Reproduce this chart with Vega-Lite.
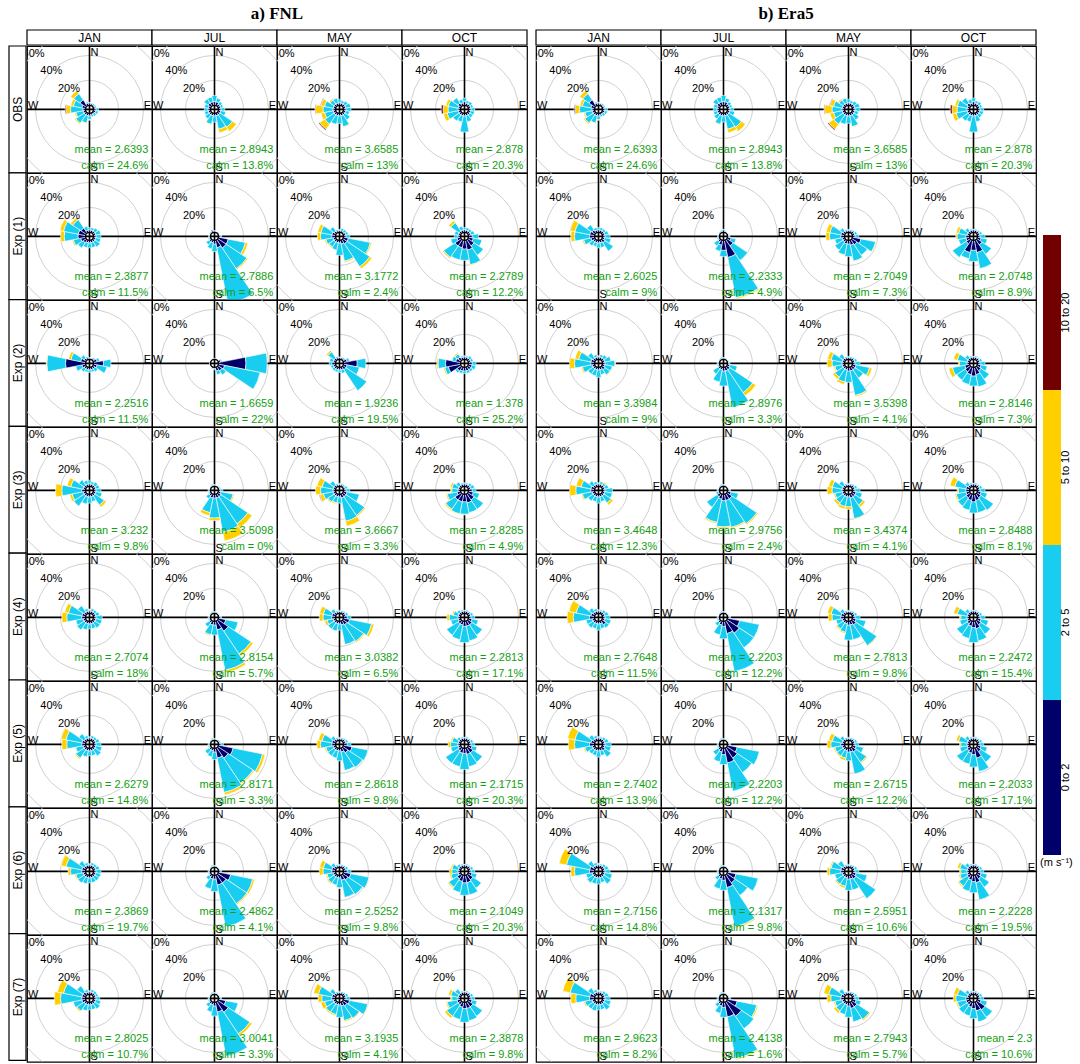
{
"$schema":"https://vega.github.io/schema/vega-lite/v6.json",
"padding":{"left":8,"top":5,"right":0,"bottom":0},
"background":"white",
"config":{"view":{"stroke":"#000","strokeWidth":1.2},"font":"Liberation Sans","title":{"font":"Liberation Serif","fontSize":17,"fontWeight":"bold","offset":6,"color":"#000"}},
"datasets":{"roses":[
{"p":"ab","m":"JAN","e":"O","mean":"2.6393","calm":"24.6"},{"p":"ab","m":"JUL","e":"O","mean":"2.8943","calm":"13.8"},{"p":"ab","m":"MAY","e":"O","mean":"3.6585","calm":"13"},{"p":"ab","m":"OCT","e":"O","mean":"2.878","calm":"20.3"},
{"p":"a","m":"JAN","e":"1","mean":"2.3877","calm":"11.5"},{"p":"a","m":"JUL","e":"1","mean":"2.7886","calm":"6.5"},{"p":"a","m":"MAY","e":"1","mean":"3.1772","calm":"2.4"},{"p":"a","m":"OCT","e":"1","mean":"2.2789","calm":"12.2"},
{"p":"a","m":"JAN","e":"2","mean":"2.2516","calm":"11.5"},{"p":"a","m":"JUL","e":"2","mean":"1.6659","calm":"22"},{"p":"a","m":"MAY","e":"2","mean":"1.9236","calm":"19.5"},{"p":"a","m":"OCT","e":"2","mean":"1.378","calm":"25.2"},
{"p":"a","m":"JAN","e":"3","mean":"3.232","calm":"9.8"},{"p":"a","m":"JUL","e":"3","mean":"3.5098","calm":"0"},{"p":"a","m":"MAY","e":"3","mean":"3.6667","calm":"3.3"},{"p":"a","m":"OCT","e":"3","mean":"2.8285","calm":"4.9"},
{"p":"a","m":"JAN","e":"4","mean":"2.7074","calm":"18"},{"p":"a","m":"JUL","e":"4","mean":"2.8154","calm":"5.7"},{"p":"a","m":"MAY","e":"4","mean":"3.0382","calm":"6.5"},{"p":"a","m":"OCT","e":"4","mean":"2.2813","calm":"17.1"},
{"p":"a","m":"JAN","e":"5","mean":"2.6279","calm":"14.8"},{"p":"a","m":"JUL","e":"5","mean":"2.8171","calm":"3.3"},{"p":"a","m":"MAY","e":"5","mean":"2.8618","calm":"9.8"},{"p":"a","m":"OCT","e":"5","mean":"2.1715","calm":"20.3"},
{"p":"a","m":"JAN","e":"6","mean":"2.3869","calm":"19.7"},{"p":"a","m":"JUL","e":"6","mean":"2.4862","calm":"4.1"},{"p":"a","m":"MAY","e":"6","mean":"2.5252","calm":"9.8"},{"p":"a","m":"OCT","e":"6","mean":"2.1049","calm":"20.3"},
{"p":"a","m":"JAN","e":"7","mean":"2.8025","calm":"10.7"},{"p":"a","m":"JUL","e":"7","mean":"3.0041","calm":"3.3"},{"p":"a","m":"MAY","e":"7","mean":"3.1935","calm":"4.1"},{"p":"a","m":"OCT","e":"7","mean":"2.3878","calm":"9.8"},
{"p":"b","m":"JAN","e":"1","mean":"2.6025","calm":"9"},{"p":"b","m":"JUL","e":"1","mean":"2.2333","calm":"4.9"},{"p":"b","m":"MAY","e":"1","mean":"2.7049","calm":"7.3"},{"p":"b","m":"OCT","e":"1","mean":"2.0748","calm":"8.9"},
{"p":"b","m":"JAN","e":"2","mean":"3.3984","calm":"9"},{"p":"b","m":"JUL","e":"2","mean":"2.8976","calm":"3.3"},{"p":"b","m":"MAY","e":"2","mean":"3.5398","calm":"4.1"},{"p":"b","m":"OCT","e":"2","mean":"2.8146","calm":"7.3"},
{"p":"b","m":"JAN","e":"3","mean":"3.4648","calm":"12.3"},{"p":"b","m":"JUL","e":"3","mean":"2.9756","calm":"2.4"},{"p":"b","m":"MAY","e":"3","mean":"3.4374","calm":"4.1"},{"p":"b","m":"OCT","e":"3","mean":"2.8488","calm":"8.1"},
{"p":"b","m":"JAN","e":"4","mean":"2.7648","calm":"11.5"},{"p":"b","m":"JUL","e":"4","mean":"2.2203","calm":"12.2"},{"p":"b","m":"MAY","e":"4","mean":"2.7813","calm":"9.8"},{"p":"b","m":"OCT","e":"4","mean":"2.2472","calm":"15.4"},
{"p":"b","m":"JAN","e":"5","mean":"2.7402","calm":"13.9"},{"p":"b","m":"JUL","e":"5","mean":"2.2203","calm":"12.2"},{"p":"b","m":"MAY","e":"5","mean":"2.6715","calm":"12.2"},{"p":"b","m":"OCT","e":"5","mean":"2.2033","calm":"17.1"},
{"p":"b","m":"JAN","e":"6","mean":"2.7156","calm":"14.8"},{"p":"b","m":"JUL","e":"6","mean":"2.1317","calm":"9.8"},{"p":"b","m":"MAY","e":"6","mean":"2.5951","calm":"10.6"},{"p":"b","m":"OCT","e":"6","mean":"2.2228","calm":"19.5"},
{"p":"b","m":"JAN","e":"7","mean":"2.9623","calm":"8.2"},{"p":"b","m":"JUL","e":"7","mean":"2.4138","calm":"1.6"},{"p":"b","m":"MAY","e":"7","mean":"2.7943","calm":"5.7"},{"p":"b","m":"OCT","e":"7","mean":"2.3","calm":"10.6"},

{"p":"ab","m":"JAN","e":"O","d":0,"s1":2,"s2":0.5},{"p":"ab","m":"JAN","e":"O","d":22.5,"s1":1.5,"s2":0.5},{"p":"ab","m":"JAN","e":"O","d":45,"s1":1.5,"s2":1},{"p":"ab","m":"JAN","e":"O","d":67.5,"s1":1.5,"s2":1},{"p":"ab","m":"JAN","e":"O","d":90,"s1":2,"s2":2},{"p":"ab","m":"JAN","e":"O","d":112.5,"s1":2,"s2":2},{"p":"ab","m":"JAN","e":"O","d":135,"s1":1.5,"s2":2},{"p":"ab","m":"JAN","e":"O","d":157.5,"s1":1.5,"s2":1.5},{"p":"ab","m":"JAN","e":"O","d":180,"s1":2,"s2":3,"s3":0.5},{"p":"ab","m":"JAN","e":"O","d":202.5,"s1":2,"s2":6,"s3":0.5},{"p":"ab","m":"JAN","e":"O","d":225,"s1":2,"s2":8,"s3":1},{"p":"ab","m":"JAN","e":"O","d":247.5,"s1":2,"s2":6,"s3":1},{"p":"ab","m":"JAN","e":"O","d":270,"s1":2,"s2":10,"s3":3.5,"s4":0.8},{"p":"ab","m":"JAN","e":"O","d":292.5,"s1":3,"s2":7,"s3":2},{"p":"ab","m":"JAN","e":"O","d":315,"s1":6,"s2":6,"s3":3},{"p":"ab","m":"JAN","e":"O","d":337.5,"s1":2,"s2":1},
{"p":"ab","m":"JUL","e":"O","d":0,"s1":3,"s2":5},{"p":"ab","m":"JUL","e":"O","d":22.5,"s1":3,"s2":3},{"p":"ab","m":"JUL","e":"O","d":45,"s1":2,"s2":2.5},{"p":"ab","m":"JUL","e":"O","d":67.5,"s1":2,"s2":2},{"p":"ab","m":"JUL","e":"O","d":90,"s1":2,"s2":3},{"p":"ab","m":"JUL","e":"O","d":112.5,"s1":2,"s2":4},{"p":"ab","m":"JUL","e":"O","d":135,"s1":2,"s2":12,"s3":4},{"p":"ab","m":"JUL","e":"O","d":157.5,"s1":2,"s2":11,"s3":3},{"p":"ab","m":"JUL","e":"O","d":180,"s1":2,"s2":5},{"p":"ab","m":"JUL","e":"O","d":202.5,"s1":2,"s2":7,"s3":0.5},{"p":"ab","m":"JUL","e":"O","d":225,"s1":2,"s2":4},{"p":"ab","m":"JUL","e":"O","d":247.5,"s1":2,"s2":3},{"p":"ab","m":"JUL","e":"O","d":270,"s1":2,"s2":3},{"p":"ab","m":"JUL","e":"O","d":292.5,"s1":2,"s2":3},{"p":"ab","m":"JUL","e":"O","d":315,"s1":3,"s2":4},{"p":"ab","m":"JUL","e":"O","d":337.5,"s1":3,"s2":4},
{"p":"ab","m":"MAY","e":"O","d":0,"s1":2,"s2":3},{"p":"ab","m":"MAY","e":"O","d":22.5,"s1":2,"s2":2},{"p":"ab","m":"MAY","e":"O","d":45,"s1":2,"s2":3},{"p":"ab","m":"MAY","e":"O","d":67.5,"s1":2,"s2":4},{"p":"ab","m":"MAY","e":"O","d":90,"s1":2,"s2":4},{"p":"ab","m":"MAY","e":"O","d":112.5,"s1":2,"s2":3},{"p":"ab","m":"MAY","e":"O","d":135,"s1":2,"s2":5},{"p":"ab","m":"MAY","e":"O","d":157.5,"s1":2,"s2":9,"s3":0.5},{"p":"ab","m":"MAY","e":"O","d":180,"s1":2,"s2":6},{"p":"ab","m":"MAY","e":"O","d":202.5,"s1":2,"s2":7},{"p":"ab","m":"MAY","e":"O","d":225,"s1":2,"s2":9,"s3":5,"s4":0.8},{"p":"ab","m":"MAY","e":"O","d":247.5,"s1":2,"s2":7,"s3":3},{"p":"ab","m":"MAY","e":"O","d":270,"s1":2,"s2":8,"s3":6,"s4":0.5},{"p":"ab","m":"MAY","e":"O","d":292.5,"s1":2,"s2":7,"s3":3,"s4":0.5},{"p":"ab","m":"MAY","e":"O","d":315,"s1":2,"s2":4,"s3":1},{"p":"ab","m":"MAY","e":"O","d":337.5,"s1":2,"s2":4},
{"p":"ab","m":"OCT","e":"O","d":0,"s1":3,"s2":3},{"p":"ab","m":"OCT","e":"O","d":22.5,"s1":2,"s2":2},{"p":"ab","m":"OCT","e":"O","d":45,"s1":2,"s2":2.5},{"p":"ab","m":"OCT","e":"O","d":67.5,"s1":2,"s2":2},{"p":"ab","m":"OCT","e":"O","d":90,"s1":2,"s2":3},{"p":"ab","m":"OCT","e":"O","d":112.5,"s1":2,"s2":3},{"p":"ab","m":"OCT","e":"O","d":135,"s1":2,"s2":3},{"p":"ab","m":"OCT","e":"O","d":157.5,"s1":2,"s2":5},{"p":"ab","m":"OCT","e":"O","d":180,"s1":2,"s2":13},{"p":"ab","m":"OCT","e":"O","d":202.5,"s1":2,"s2":5},{"p":"ab","m":"OCT","e":"O","d":225,"s1":2,"s2":6},{"p":"ab","m":"OCT","e":"O","d":247.5,"s1":2,"s2":9,"s3":3},{"p":"ab","m":"OCT","e":"O","d":270,"s1":2,"s2":8,"s3":4,"s4":1.5},{"p":"ab","m":"OCT","e":"O","d":292.5,"s1":2,"s2":8,"s3":2},{"p":"ab","m":"OCT","e":"O","d":315,"s1":3,"s2":5},{"p":"ab","m":"OCT","e":"O","d":337.5,"s1":2,"s2":3},

{"p":"a","m":"JAN","e":"1","d":0,"s1":2,"s2":2},{"p":"a","m":"JAN","e":"1","d":22.5,"s1":2,"s2":2},{"p":"a","m":"JAN","e":"1","d":45,"s1":2,"s2":3},{"p":"a","m":"JAN","e":"1","d":67.5,"s1":2,"s2":4},{"p":"a","m":"JAN","e":"1","d":90,"s1":2,"s2":4},{"p":"a","m":"JAN","e":"1","d":112.5,"s1":2,"s2":4},{"p":"a","m":"JAN","e":"1","d":135,"s1":2,"s2":5},{"p":"a","m":"JAN","e":"1","d":157.5,"s1":2,"s2":4},{"p":"a","m":"JAN","e":"1","d":180,"s1":2,"s2":4},{"p":"a","m":"JAN","e":"1","d":202.5,"s1":2,"s2":4},{"p":"a","m":"JAN","e":"1","d":225,"s1":3,"s2":5},{"p":"a","m":"JAN","e":"1","d":247.5,"s1":4,"s2":6,"s3":1},{"p":"a","m":"JAN","e":"1","d":270,"s1":6,"s2":11,"s3":3},{"p":"a","m":"JAN","e":"1","d":292.5,"s1":6,"s2":12,"s3":3},{"p":"a","m":"JAN","e":"1","d":315,"s1":5,"s2":8,"s3":2},{"p":"a","m":"JAN","e":"1","d":337.5,"s1":2,"s2":3},
{"p":"a","m":"JUL","e":"1","d":0,"s1":1,"s2":0.5},{"p":"a","m":"JUL","e":"1","d":45,"s1":1,"s2":0.5},{"p":"a","m":"JUL","e":"1","d":90,"s1":1.5,"s2":1},{"p":"a","m":"JUL","e":"1","d":112.5,"s1":8,"s2":14,"s3":2},{"p":"a","m":"JUL","e":"1","d":135,"s1":8,"s2":20,"s3":1},{"p":"a","m":"JUL","e":"1","d":157.5,"s1":6,"s2":46},{"p":"a","m":"JUL","e":"1","d":180,"s1":3,"s2":6},{"p":"a","m":"JUL","e":"1","d":202.5,"s1":2,"s2":5},{"p":"a","m":"JUL","e":"1","d":225,"s1":2,"s2":3},{"p":"a","m":"JUL","e":"1","d":247.5,"s1":1,"s2":1},{"p":"a","m":"JUL","e":"1","d":270,"s1":1,"s2":0.5},{"p":"a","m":"JUL","e":"1","d":315,"s1":1,"s2":0.5},{"p":"a","m":"JUL","e":"1","d":337.5,"s1":1.5,"s2":1},
{"p":"a","m":"MAY","e":"1","d":0,"s1":1.5,"s2":1},{"p":"a","m":"MAY","e":"1","d":22.5,"s1":1.5,"s2":2},{"p":"a","m":"MAY","e":"1","d":45,"s1":1.5,"s2":2},{"p":"a","m":"MAY","e":"1","d":67.5,"s1":2,"s2":2},{"p":"a","m":"MAY","e":"1","d":90,"s1":2,"s2":3},{"p":"a","m":"MAY","e":"1","d":112.5,"s1":4,"s2":18,"s3":1},{"p":"a","m":"MAY","e":"1","d":135,"s1":4,"s2":22,"s3":2},{"p":"a","m":"MAY","e":"1","d":157.5,"s1":3,"s2":14,"s3":1},{"p":"a","m":"MAY","e":"1","d":180,"s1":2,"s2":10},{"p":"a","m":"MAY","e":"1","d":202.5,"s1":2,"s2":6},{"p":"a","m":"MAY","e":"1","d":225,"s1":2,"s2":5,"s3":1},{"p":"a","m":"MAY","e":"1","d":247.5,"s1":2,"s2":6,"s3":1},{"p":"a","m":"MAY","e":"1","d":270,"s1":3,"s2":9,"s3":2.5},{"p":"a","m":"MAY","e":"1","d":292.5,"s1":3,"s2":9,"s3":2.5},{"p":"a","m":"MAY","e":"1","d":315,"s1":2,"s2":4},{"p":"a","m":"MAY","e":"1","d":337.5,"s1":1.5,"s2":1},
{"p":"a","m":"OCT","e":"1","d":0,"s1":2,"s2":2},{"p":"a","m":"OCT","e":"1","d":22.5,"s1":2,"s2":2},{"p":"a","m":"OCT","e":"1","d":45,"s1":2,"s2":2},{"p":"a","m":"OCT","e":"1","d":67.5,"s1":2,"s2":3},{"p":"a","m":"OCT","e":"1","d":90,"s1":3,"s2":5},{"p":"a","m":"OCT","e":"1","d":112.5,"s1":4,"s2":7},{"p":"a","m":"OCT","e":"1","d":135,"s1":6,"s2":9},{"p":"a","m":"OCT","e":"1","d":157.5,"s1":8,"s2":12,"s3":0.5},{"p":"a","m":"OCT","e":"1","d":180,"s1":7,"s2":9},{"p":"a","m":"OCT","e":"1","d":202.5,"s1":6,"s2":10},{"p":"a","m":"OCT","e":"1","d":225,"s1":6,"s2":11,"s3":1},{"p":"a","m":"OCT","e":"1","d":247.5,"s1":3,"s2":5},{"p":"a","m":"OCT","e":"1","d":270,"s1":2,"s2":3},{"p":"a","m":"OCT","e":"1","d":292.5,"s1":2,"s2":3},{"p":"a","m":"OCT","e":"1","d":315,"s1":2,"s2":8,"s3":2},{"p":"a","m":"OCT","e":"1","d":337.5,"s1":2,"s2":3},

{"p":"a","m":"JAN","e":"2","d":0,"s1":1,"s2":0.5},{"p":"a","m":"JAN","e":"2","d":22.5,"s1":1,"s2":0.5},{"p":"a","m":"JAN","e":"2","d":45,"s1":1.5,"s2":1},{"p":"a","m":"JAN","e":"2","d":67.5,"s1":3,"s2":2},{"p":"a","m":"JAN","e":"2","d":90,"s1":8,"s2":6},{"p":"a","m":"JAN","e":"2","d":112.5,"s1":3,"s2":8},{"p":"a","m":"JAN","e":"2","d":135,"s1":2,"s2":3},{"p":"a","m":"JAN","e":"2","d":157.5,"s1":2,"s2":2},{"p":"a","m":"JAN","e":"2","d":180,"s1":2,"s2":2},{"p":"a","m":"JAN","e":"2","d":202.5,"s1":2,"s2":2},{"p":"a","m":"JAN","e":"2","d":225,"s1":2,"s2":3},{"p":"a","m":"JAN","e":"2","d":247.5,"s1":3,"s2":5},{"p":"a","m":"JAN","e":"2","d":270,"s1":16,"s2":15,"s3":0.5},{"p":"a","m":"JAN","e":"2","d":292.5,"s1":4,"s2":8,"s3":2},{"p":"a","m":"JAN","e":"2","d":315,"s1":2,"s2":3},{"p":"a","m":"JAN","e":"2","d":337.5,"s1":1.5,"s2":1},
{"p":"a","m":"JUL","e":"2","d":0,"s1":0.5,"s2":0.3},{"p":"a","m":"JUL","e":"2","d":67.5,"s1":2,"s2":1},{"p":"a","m":"JUL","e":"2","d":90,"s1":22,"s2":17},{"p":"a","m":"JUL","e":"2","d":112.5,"s1":5,"s2":29},{"p":"a","m":"JUL","e":"2","d":135,"s1":4,"s2":4},{"p":"a","m":"JUL","e":"2","d":157.5,"s1":3,"s2":3},{"p":"a","m":"JUL","e":"2","d":180,"s1":1,"s2":1},{"p":"a","m":"JUL","e":"2","d":202.5,"s1":1,"s2":0.5},{"p":"a","m":"JUL","e":"2","d":270,"s1":0.5,"s2":0.3},
{"p":"a","m":"MAY","e":"2","d":0,"s1":1.5,"s2":0.5},{"p":"a","m":"MAY","e":"2","d":22.5,"s1":1.5,"s2":0.5},{"p":"a","m":"MAY","e":"2","d":45,"s1":1.5,"s2":1},{"p":"a","m":"MAY","e":"2","d":67.5,"s1":3,"s2":2},{"p":"a","m":"MAY","e":"2","d":90,"s1":11,"s2":7},{"p":"a","m":"MAY","e":"2","d":112.5,"s1":3,"s2":10},{"p":"a","m":"MAY","e":"2","d":135,"s1":3,"s2":20},{"p":"a","m":"MAY","e":"2","d":157.5,"s1":2,"s2":3},{"p":"a","m":"MAY","e":"2","d":180,"s1":2,"s2":2},{"p":"a","m":"MAY","e":"2","d":202.5,"s1":2,"s2":2},{"p":"a","m":"MAY","e":"2","d":225,"s1":2,"s2":2},{"p":"a","m":"MAY","e":"2","d":247.5,"s1":2,"s2":2},{"p":"a","m":"MAY","e":"2","d":270,"s1":3,"s2":2},{"p":"a","m":"MAY","e":"2","d":292.5,"s1":2,"s2":3},{"p":"a","m":"MAY","e":"2","d":315,"s1":2,"s2":6,"s3":1.5},{"p":"a","m":"MAY","e":"2","d":337.5,"s1":1.5,"s2":1},
{"p":"a","m":"OCT","e":"2","d":0,"s1":2,"s2":1},{"p":"a","m":"OCT","e":"2","d":22.5,"s1":2,"s2":1},{"p":"a","m":"OCT","e":"2","d":45,"s1":2,"s2":2},{"p":"a","m":"OCT","e":"2","d":67.5,"s1":2,"s2":2},{"p":"a","m":"OCT","e":"2","d":90,"s1":3,"s2":3},{"p":"a","m":"OCT","e":"2","d":112.5,"s1":3,"s2":3},{"p":"a","m":"OCT","e":"2","d":135,"s1":3,"s2":2},{"p":"a","m":"OCT","e":"2","d":157.5,"s1":3,"s2":2},{"p":"a","m":"OCT","e":"2","d":180,"s1":3,"s2":2},{"p":"a","m":"OCT","e":"2","d":202.5,"s1":3,"s2":2},{"p":"a","m":"OCT","e":"2","d":225,"s1":4,"s2":2},{"p":"a","m":"OCT","e":"2","d":247.5,"s1":10,"s2":3,"s3":1},{"p":"a","m":"OCT","e":"2","d":270,"s1":12,"s2":6,"s3":1},{"p":"a","m":"OCT","e":"2","d":292.5,"s1":4,"s2":3},{"p":"a","m":"OCT","e":"2","d":315,"s1":3,"s2":3,"s3":1},{"p":"a","m":"OCT","e":"2","d":337.5,"s1":2,"s2":1},

{"p":"a","m":"JAN","e":"3","d":0,"s1":2,"s2":3},{"p":"a","m":"JAN","e":"3","d":22.5,"s1":2,"s2":2},{"p":"a","m":"JAN","e":"3","d":45,"s1":2,"s2":3},{"p":"a","m":"JAN","e":"3","d":67.5,"s1":2,"s2":3},{"p":"a","m":"JAN","e":"3","d":90,"s1":2,"s2":4},{"p":"a","m":"JAN","e":"3","d":112.5,"s1":2,"s2":5},{"p":"a","m":"JAN","e":"3","d":135,"s1":2,"s2":9,"s3":2},{"p":"a","m":"JAN","e":"3","d":157.5,"s1":2,"s2":4},{"p":"a","m":"JAN","e":"3","d":180,"s1":2,"s2":5},{"p":"a","m":"JAN","e":"3","d":202.5,"s1":2,"s2":6},{"p":"a","m":"JAN","e":"3","d":225,"s1":2,"s2":10},{"p":"a","m":"JAN","e":"3","d":247.5,"s1":2,"s2":9,"s3":2},{"p":"a","m":"JAN","e":"3","d":270,"s1":3,"s2":16,"s3":5},{"p":"a","m":"JAN","e":"3","d":292.5,"s1":2,"s2":10,"s3":3},{"p":"a","m":"JAN","e":"3","d":315,"s1":2,"s2":5},{"p":"a","m":"JAN","e":"3","d":337.5,"s1":2,"s2":3},
{"p":"a","m":"JUL","e":"3","d":0,"s1":1,"s2":0.5},{"p":"a","m":"JUL","e":"3","d":45,"s1":1,"s2":0.5},{"p":"a","m":"JUL","e":"3","d":67.5,"s1":1,"s2":1},{"p":"a","m":"JUL","e":"3","d":90,"s1":1.5,"s2":2},{"p":"a","m":"JUL","e":"3","d":112.5,"s1":2,"s2":10,"s3":1},{"p":"a","m":"JUL","e":"3","d":135,"s1":3,"s2":26,"s3":4},{"p":"a","m":"JUL","e":"3","d":157.5,"s1":3,"s2":28,"s3":7},{"p":"a","m":"JUL","e":"3","d":180,"s1":3,"s2":16,"s3":2},{"p":"a","m":"JUL","e":"3","d":202.5,"s1":3,"s2":12,"s3":2.5},{"p":"a","m":"JUL","e":"3","d":225,"s1":2,"s2":3},{"p":"a","m":"JUL","e":"3","d":247.5,"s1":1,"s2":1},{"p":"a","m":"JUL","e":"3","d":270,"s1":1,"s2":1},{"p":"a","m":"JUL","e":"3","d":315,"s1":1,"s2":0.5},{"p":"a","m":"JUL","e":"3","d":337.5,"s1":1,"s2":1},
{"p":"a","m":"MAY","e":"3","d":0,"s1":1.5,"s2":1},{"p":"a","m":"MAY","e":"3","d":22.5,"s1":1.5,"s2":1},{"p":"a","m":"MAY","e":"3","d":45,"s1":1.5,"s2":1},{"p":"a","m":"MAY","e":"3","d":67.5,"s1":1.5,"s2":2},{"p":"a","m":"MAY","e":"3","d":90,"s1":2,"s2":3},{"p":"a","m":"MAY","e":"3","d":112.5,"s1":3,"s2":10},{"p":"a","m":"MAY","e":"3","d":135,"s1":3,"s2":18,"s3":1},{"p":"a","m":"MAY","e":"3","d":157.5,"s1":3,"s2":19,"s3":4},{"p":"a","m":"MAY","e":"3","d":180,"s1":2,"s2":5},{"p":"a","m":"MAY","e":"3","d":202.5,"s1":2,"s2":5,"s3":1},{"p":"a","m":"MAY","e":"3","d":225,"s1":2,"s2":6,"s3":1},{"p":"a","m":"MAY","e":"3","d":247.5,"s1":2,"s2":8,"s3":3,"s4":0.5},{"p":"a","m":"MAY","e":"3","d":270,"s1":2,"s2":10,"s3":4},{"p":"a","m":"MAY","e":"3","d":292.5,"s1":2,"s2":9,"s3":4},{"p":"a","m":"MAY","e":"3","d":315,"s1":2,"s2":4},{"p":"a","m":"MAY","e":"3","d":337.5,"s1":1.5,"s2":1},
{"p":"a","m":"OCT","e":"3","d":0,"s1":2,"s2":1},{"p":"a","m":"OCT","e":"3","d":22.5,"s1":2,"s2":1},{"p":"a","m":"OCT","e":"3","d":45,"s1":2,"s2":2},{"p":"a","m":"OCT","e":"3","d":67.5,"s1":2,"s2":3},{"p":"a","m":"OCT","e":"3","d":90,"s1":3,"s2":3},{"p":"a","m":"OCT","e":"3","d":112.5,"s1":4,"s2":5},{"p":"a","m":"OCT","e":"3","d":135,"s1":6,"s2":9},{"p":"a","m":"OCT","e":"3","d":157.5,"s1":7,"s2":8},{"p":"a","m":"OCT","e":"3","d":180,"s1":6,"s2":10,"s3":0.5},{"p":"a","m":"OCT","e":"3","d":202.5,"s1":6,"s2":10,"s3":0.5},{"p":"a","m":"OCT","e":"3","d":225,"s1":6,"s2":9,"s3":1},{"p":"a","m":"OCT","e":"3","d":247.5,"s1":3,"s2":8,"s3":1},{"p":"a","m":"OCT","e":"3","d":270,"s1":2,"s2":5,"s3":1},{"p":"a","m":"OCT","e":"3","d":292.5,"s1":2,"s2":5,"s3":1.5},{"p":"a","m":"OCT","e":"3","d":315,"s1":2,"s2":3},{"p":"a","m":"OCT","e":"3","d":337.5,"s1":2,"s2":1},

{"p":"a","m":"JAN","e":"4","d":0,"s1":2,"s2":1,"s3":0.5},{"p":"a","m":"JAN","e":"4","d":22.5,"s1":2,"s2":2},{"p":"a","m":"JAN","e":"4","d":45,"s1":2,"s2":2},{"p":"a","m":"JAN","e":"4","d":67.5,"s1":2,"s2":3},{"p":"a","m":"JAN","e":"4","d":90,"s1":2,"s2":5},{"p":"a","m":"JAN","e":"4","d":112.5,"s1":2,"s2":5},{"p":"a","m":"JAN","e":"4","d":135,"s1":2,"s2":5},{"p":"a","m":"JAN","e":"4","d":157.5,"s1":2,"s2":4},{"p":"a","m":"JAN","e":"4","d":180,"s1":2,"s2":4},{"p":"a","m":"JAN","e":"4","d":202.5,"s1":2,"s2":5},{"p":"a","m":"JAN","e":"4","d":225,"s1":2,"s2":7},{"p":"a","m":"JAN","e":"4","d":247.5,"s1":2,"s2":6},{"p":"a","m":"JAN","e":"4","d":270,"s1":3,"s2":12,"s3":4},{"p":"a","m":"JAN","e":"4","d":292.5,"s1":3,"s2":11,"s3":3},{"p":"a","m":"JAN","e":"4","d":315,"s1":2,"s2":6},{"p":"a","m":"JAN","e":"4","d":337.5,"s1":2,"s2":2},
{"p":"a","m":"JUL","e":"4","d":0,"s1":1,"s2":0.5},{"p":"a","m":"JUL","e":"4","d":22.5,"s1":1,"s2":0.5},{"p":"a","m":"JUL","e":"4","d":67.5,"s1":1,"s2":0.5},{"p":"a","m":"JUL","e":"4","d":90,"s1":1.5,"s2":1},{"p":"a","m":"JUL","e":"4","d":112.5,"s1":6,"s2":10},{"p":"a","m":"JUL","e":"4","d":135,"s1":10,"s2":22,"s3":2},{"p":"a","m":"JUL","e":"4","d":157.5,"s1":7,"s2":33,"s3":2},{"p":"a","m":"JUL","e":"4","d":180,"s1":3,"s2":8},{"p":"a","m":"JUL","e":"4","d":202.5,"s1":3,"s2":8,"s3":1},{"p":"a","m":"JUL","e":"4","d":225,"s1":2,"s2":4},{"p":"a","m":"JUL","e":"4","d":247.5,"s1":1,"s2":1},{"p":"a","m":"JUL","e":"4","d":270,"s1":1,"s2":1},{"p":"a","m":"JUL","e":"4","d":315,"s1":1,"s2":0.5},{"p":"a","m":"JUL","e":"4","d":337.5,"s1":1,"s2":1},
{"p":"a","m":"MAY","e":"4","d":0,"s1":1.5,"s2":1},{"p":"a","m":"MAY","e":"4","d":22.5,"s1":1.5,"s2":1},{"p":"a","m":"MAY","e":"4","d":45,"s1":2,"s2":1},{"p":"a","m":"MAY","e":"4","d":67.5,"s1":2,"s2":2},{"p":"a","m":"MAY","e":"4","d":90,"s1":3,"s2":3},{"p":"a","m":"MAY","e":"4","d":112.5,"s1":5,"s2":18,"s3":2},{"p":"a","m":"MAY","e":"4","d":135,"s1":4,"s2":16,"s3":1},{"p":"a","m":"MAY","e":"4","d":157.5,"s1":3,"s2":16},{"p":"a","m":"MAY","e":"4","d":180,"s1":2,"s2":5},{"p":"a","m":"MAY","e":"4","d":202.5,"s1":2,"s2":6},{"p":"a","m":"MAY","e":"4","d":225,"s1":2,"s2":6},{"p":"a","m":"MAY","e":"4","d":247.5,"s1":2,"s2":5,"s3":2},{"p":"a","m":"MAY","e":"4","d":270,"s1":3,"s2":7,"s3":3},{"p":"a","m":"MAY","e":"4","d":292.5,"s1":3,"s2":7,"s3":3},{"p":"a","m":"MAY","e":"4","d":315,"s1":2,"s2":3},{"p":"a","m":"MAY","e":"4","d":337.5,"s1":1.5,"s2":1},
{"p":"a","m":"OCT","e":"4","d":0,"s1":2,"s2":0.5},{"p":"a","m":"OCT","e":"4","d":22.5,"s1":2,"s2":1},{"p":"a","m":"OCT","e":"4","d":45,"s1":2,"s2":1},{"p":"a","m":"OCT","e":"4","d":67.5,"s1":2,"s2":2},{"p":"a","m":"OCT","e":"4","d":90,"s1":2,"s2":3},{"p":"a","m":"OCT","e":"4","d":112.5,"s1":3,"s2":5},{"p":"a","m":"OCT","e":"4","d":135,"s1":4,"s2":10},{"p":"a","m":"OCT","e":"4","d":157.5,"s1":4,"s2":12},{"p":"a","m":"OCT","e":"4","d":180,"s1":4,"s2":13},{"p":"a","m":"OCT","e":"4","d":202.5,"s1":3,"s2":12},{"p":"a","m":"OCT","e":"4","d":225,"s1":3,"s2":11},{"p":"a","m":"OCT","e":"4","d":247.5,"s1":2,"s2":6},{"p":"a","m":"OCT","e":"4","d":270,"s1":2,"s2":7,"s3":2},{"p":"a","m":"OCT","e":"4","d":292.5,"s1":2,"s2":4,"s3":1},{"p":"a","m":"OCT","e":"4","d":315,"s1":2,"s2":2},{"p":"a","m":"OCT","e":"4","d":337.5,"s1":2,"s2":1},

{"p":"a","m":"JAN","e":"5","d":0,"s1":2,"s2":1},{"p":"a","m":"JAN","e":"5","d":22.5,"s1":2,"s2":2},{"p":"a","m":"JAN","e":"5","d":45,"s1":2,"s2":2},{"p":"a","m":"JAN","e":"5","d":67.5,"s1":2,"s2":3},{"p":"a","m":"JAN","e":"5","d":90,"s1":2,"s2":4},{"p":"a","m":"JAN","e":"5","d":112.5,"s1":2,"s2":5},{"p":"a","m":"JAN","e":"5","d":135,"s1":2,"s2":6},{"p":"a","m":"JAN","e":"5","d":157.5,"s1":2,"s2":4},{"p":"a","m":"JAN","e":"5","d":180,"s1":2,"s2":4},{"p":"a","m":"JAN","e":"5","d":202.5,"s1":2,"s2":5},{"p":"a","m":"JAN","e":"5","d":225,"s1":2,"s2":8,"s3":1},{"p":"a","m":"JAN","e":"5","d":247.5,"s1":2,"s2":6},{"p":"a","m":"JAN","e":"5","d":270,"s1":3,"s2":12,"s3":4},{"p":"a","m":"JAN","e":"5","d":292.5,"s1":3,"s2":13,"s3":4},{"p":"a","m":"JAN","e":"5","d":315,"s1":2,"s2":5},{"p":"a","m":"JAN","e":"5","d":337.5,"s1":2,"s2":2},
{"p":"a","m":"JUL","e":"5","d":0,"s1":1,"s2":0.5},{"p":"a","m":"JUL","e":"5","d":45,"s1":1,"s2":0.5},{"p":"a","m":"JUL","e":"5","d":67.5,"s1":1,"s2":1},{"p":"a","m":"JUL","e":"5","d":90,"s1":2,"s2":2},{"p":"a","m":"JUL","e":"5","d":112.5,"s1":12,"s2":24,"s3":2},{"p":"a","m":"JUL","e":"5","d":135,"s1":10,"s2":24,"s3":1},{"p":"a","m":"JUL","e":"5","d":157.5,"s1":8,"s2":28,"s3":2},{"p":"a","m":"JUL","e":"5","d":180,"s1":3,"s2":6},{"p":"a","m":"JUL","e":"5","d":202.5,"s1":2,"s2":5},{"p":"a","m":"JUL","e":"5","d":225,"s1":2,"s2":4},{"p":"a","m":"JUL","e":"5","d":247.5,"s1":1,"s2":1},{"p":"a","m":"JUL","e":"5","d":270,"s1":1,"s2":1},{"p":"a","m":"JUL","e":"5","d":315,"s1":1,"s2":0.5},{"p":"a","m":"JUL","e":"5","d":337.5,"s1":1,"s2":1},
{"p":"a","m":"MAY","e":"5","d":0,"s1":1.5,"s2":1},{"p":"a","m":"MAY","e":"5","d":22.5,"s1":1.5,"s2":1},{"p":"a","m":"MAY","e":"5","d":45,"s1":2,"s2":1},{"p":"a","m":"MAY","e":"5","d":67.5,"s1":2,"s2":2},{"p":"a","m":"MAY","e":"5","d":90,"s1":3,"s2":3},{"p":"a","m":"MAY","e":"5","d":112.5,"s1":7,"s2":13},{"p":"a","m":"MAY","e":"5","d":135,"s1":5,"s2":14},{"p":"a","m":"MAY","e":"5","d":157.5,"s1":3,"s2":15},{"p":"a","m":"MAY","e":"5","d":180,"s1":2,"s2":8},{"p":"a","m":"MAY","e":"5","d":202.5,"s1":2,"s2":6},{"p":"a","m":"MAY","e":"5","d":225,"s1":2,"s2":6},{"p":"a","m":"MAY","e":"5","d":247.5,"s1":2,"s2":6,"s3":1},{"p":"a","m":"MAY","e":"5","d":270,"s1":3,"s2":9,"s3":3},{"p":"a","m":"MAY","e":"5","d":292.5,"s1":3,"s2":8,"s3":3},{"p":"a","m":"MAY","e":"5","d":315,"s1":2,"s2":3},{"p":"a","m":"MAY","e":"5","d":337.5,"s1":1.5,"s2":1},
{"p":"a","m":"OCT","e":"5","d":0,"s1":2,"s2":0.5},{"p":"a","m":"OCT","e":"5","d":22.5,"s1":2,"s2":1},{"p":"a","m":"OCT","e":"5","d":45,"s1":2,"s2":1},{"p":"a","m":"OCT","e":"5","d":67.5,"s1":2,"s2":2},{"p":"a","m":"OCT","e":"5","d":90,"s1":2,"s2":3},{"p":"a","m":"OCT","e":"5","d":112.5,"s1":3,"s2":4},{"p":"a","m":"OCT","e":"5","d":135,"s1":5,"s2":9},{"p":"a","m":"OCT","e":"5","d":157.5,"s1":5,"s2":10},{"p":"a","m":"OCT","e":"5","d":180,"s1":4,"s2":13},{"p":"a","m":"OCT","e":"5","d":202.5,"s1":4,"s2":11},{"p":"a","m":"OCT","e":"5","d":225,"s1":3,"s2":12},{"p":"a","m":"OCT","e":"5","d":247.5,"s1":2,"s2":6},{"p":"a","m":"OCT","e":"5","d":270,"s1":2,"s2":6,"s3":2},{"p":"a","m":"OCT","e":"5","d":292.5,"s1":2,"s2":5,"s3":1},{"p":"a","m":"OCT","e":"5","d":315,"s1":2,"s2":2},{"p":"a","m":"OCT","e":"5","d":337.5,"s1":2,"s2":1},

{"p":"a","m":"JAN","e":"6","d":0,"s1":2,"s2":1},{"p":"a","m":"JAN","e":"6","d":22.5,"s1":2,"s2":2},{"p":"a","m":"JAN","e":"6","d":45,"s1":2,"s2":2},{"p":"a","m":"JAN","e":"6","d":67.5,"s1":2,"s2":3},{"p":"a","m":"JAN","e":"6","d":90,"s1":2,"s2":4},{"p":"a","m":"JAN","e":"6","d":112.5,"s1":2,"s2":4},{"p":"a","m":"JAN","e":"6","d":135,"s1":2,"s2":4},{"p":"a","m":"JAN","e":"6","d":157.5,"s1":2,"s2":4},{"p":"a","m":"JAN","e":"6","d":180,"s1":2,"s2":4},{"p":"a","m":"JAN","e":"6","d":202.5,"s1":2,"s2":5},{"p":"a","m":"JAN","e":"6","d":225,"s1":2,"s2":6},{"p":"a","m":"JAN","e":"6","d":247.5,"s1":2,"s2":6,"s3":1},{"p":"a","m":"JAN","e":"6","d":270,"s1":3,"s2":9,"s3":2},{"p":"a","m":"JAN","e":"6","d":292.5,"s1":3,"s2":13,"s3":4},{"p":"a","m":"JAN","e":"6","d":315,"s1":2,"s2":5},{"p":"a","m":"JAN","e":"6","d":337.5,"s1":2,"s2":2},
{"p":"a","m":"JUL","e":"6","d":0,"s1":1,"s2":0.5},{"p":"a","m":"JUL","e":"6","d":22.5,"s1":1,"s2":0.5},{"p":"a","m":"JUL","e":"6","d":67.5,"s1":1,"s2":0.5},{"p":"a","m":"JUL","e":"6","d":90,"s1":1.5,"s2":1},{"p":"a","m":"JUL","e":"6","d":112.5,"s1":10,"s2":18,"s3":1.5},{"p":"a","m":"JUL","e":"6","d":135,"s1":8,"s2":20,"s3":1},{"p":"a","m":"JUL","e":"6","d":157.5,"s1":8,"s2":34},{"p":"a","m":"JUL","e":"6","d":180,"s1":3,"s2":10},{"p":"a","m":"JUL","e":"6","d":202.5,"s1":3,"s2":8},{"p":"a","m":"JUL","e":"6","d":225,"s1":2,"s2":3},{"p":"a","m":"JUL","e":"6","d":247.5,"s1":1,"s2":1},{"p":"a","m":"JUL","e":"6","d":270,"s1":1,"s2":1},{"p":"a","m":"JUL","e":"6","d":315,"s1":1,"s2":0.5},{"p":"a","m":"JUL","e":"6","d":337.5,"s1":1,"s2":1},
{"p":"a","m":"MAY","e":"6","d":0,"s1":1.5,"s2":1},{"p":"a","m":"MAY","e":"6","d":22.5,"s1":1.5,"s2":1},{"p":"a","m":"MAY","e":"6","d":45,"s1":2,"s2":1},{"p":"a","m":"MAY","e":"6","d":67.5,"s1":2,"s2":2},{"p":"a","m":"MAY","e":"6","d":90,"s1":3,"s2":3},{"p":"a","m":"MAY","e":"6","d":112.5,"s1":6,"s2":15,"s3":0.5},{"p":"a","m":"MAY","e":"6","d":135,"s1":5,"s2":14},{"p":"a","m":"MAY","e":"6","d":157.5,"s1":4,"s2":14},{"p":"a","m":"MAY","e":"6","d":180,"s1":2,"s2":8,"s3":0.5},{"p":"a","m":"MAY","e":"6","d":202.5,"s1":2,"s2":6},{"p":"a","m":"MAY","e":"6","d":225,"s1":2,"s2":6,"s3":1},{"p":"a","m":"MAY","e":"6","d":247.5,"s1":2,"s2":5,"s3":1},{"p":"a","m":"MAY","e":"6","d":270,"s1":3,"s2":7,"s3":3},{"p":"a","m":"MAY","e":"6","d":292.5,"s1":3,"s2":7,"s3":3},{"p":"a","m":"MAY","e":"6","d":315,"s1":2,"s2":3},{"p":"a","m":"MAY","e":"6","d":337.5,"s1":1.5,"s2":1},
{"p":"a","m":"OCT","e":"6","d":0,"s1":2,"s2":0.5},{"p":"a","m":"OCT","e":"6","d":22.5,"s1":2,"s2":1},{"p":"a","m":"OCT","e":"6","d":45,"s1":2,"s2":1},{"p":"a","m":"OCT","e":"6","d":67.5,"s1":2,"s2":2},{"p":"a","m":"OCT","e":"6","d":90,"s1":2,"s2":3},{"p":"a","m":"OCT","e":"6","d":112.5,"s1":3,"s2":4},{"p":"a","m":"OCT","e":"6","d":135,"s1":5,"s2":8},{"p":"a","m":"OCT","e":"6","d":157.5,"s1":6,"s2":10},{"p":"a","m":"OCT","e":"6","d":180,"s1":6,"s2":10},{"p":"a","m":"OCT","e":"6","d":202.5,"s1":5,"s2":9},{"p":"a","m":"OCT","e":"6","d":225,"s1":4,"s2":8,"s3":1},{"p":"a","m":"OCT","e":"6","d":247.5,"s1":2,"s2":6,"s3":1},{"p":"a","m":"OCT","e":"6","d":270,"s1":2,"s2":5,"s3":2},{"p":"a","m":"OCT","e":"6","d":292.5,"s1":2,"s2":5,"s3":1},{"p":"a","m":"OCT","e":"6","d":315,"s1":2,"s2":2},{"p":"a","m":"OCT","e":"6","d":337.5,"s1":2,"s2":1},

{"p":"a","m":"JAN","e":"7","d":0,"s1":2,"s2":1},{"p":"a","m":"JAN","e":"7","d":22.5,"s1":2,"s2":2},{"p":"a","m":"JAN","e":"7","d":45,"s1":2,"s2":2},{"p":"a","m":"JAN","e":"7","d":67.5,"s1":2,"s2":2},{"p":"a","m":"JAN","e":"7","d":90,"s1":2,"s2":3},{"p":"a","m":"JAN","e":"7","d":112.5,"s1":2,"s2":4},{"p":"a","m":"JAN","e":"7","d":135,"s1":2,"s2":5},{"p":"a","m":"JAN","e":"7","d":157.5,"s1":2,"s2":4},{"p":"a","m":"JAN","e":"7","d":180,"s1":2,"s2":4},{"p":"a","m":"JAN","e":"7","d":202.5,"s1":2,"s2":5},{"p":"a","m":"JAN","e":"7","d":225,"s1":2,"s2":7,"s3":1},{"p":"a","m":"JAN","e":"7","d":247.5,"s1":3,"s2":7},{"p":"a","m":"JAN","e":"7","d":270,"s1":3,"s2":17,"s3":5},{"p":"a","m":"JAN","e":"7","d":292.5,"s1":3,"s2":15,"s3":5},{"p":"a","m":"JAN","e":"7","d":315,"s1":3,"s2":6},{"p":"a","m":"JAN","e":"7","d":337.5,"s1":2,"s2":2},
{"p":"a","m":"JUL","e":"7","d":0,"s1":1,"s2":0.5},{"p":"a","m":"JUL","e":"7","d":22.5,"s1":1,"s2":0.5},{"p":"a","m":"JUL","e":"7","d":67.5,"s1":1,"s2":0.5},{"p":"a","m":"JUL","e":"7","d":90,"s1":1.5,"s2":1},{"p":"a","m":"JUL","e":"7","d":112.5,"s1":6,"s2":10},{"p":"a","m":"JUL","e":"7","d":135,"s1":10,"s2":21,"s3":2},{"p":"a","m":"JUL","e":"7","d":157.5,"s1":8,"s2":36},{"p":"a","m":"JUL","e":"7","d":180,"s1":3,"s2":8},{"p":"a","m":"JUL","e":"7","d":202.5,"s1":2,"s2":6},{"p":"a","m":"JUL","e":"7","d":225,"s1":2,"s2":3},{"p":"a","m":"JUL","e":"7","d":247.5,"s1":1,"s2":1},{"p":"a","m":"JUL","e":"7","d":270,"s1":1,"s2":1},{"p":"a","m":"JUL","e":"7","d":315,"s1":1,"s2":0.5},{"p":"a","m":"JUL","e":"7","d":337.5,"s1":1,"s2":1},
{"p":"a","m":"MAY","e":"7","d":0,"s1":1.5,"s2":1},{"p":"a","m":"MAY","e":"7","d":22.5,"s1":1.5,"s2":1},{"p":"a","m":"MAY","e":"7","d":45,"s1":2,"s2":1},{"p":"a","m":"MAY","e":"7","d":67.5,"s1":2,"s2":2},{"p":"a","m":"MAY","e":"7","d":90,"s1":2,"s2":3},{"p":"a","m":"MAY","e":"7","d":112.5,"s1":5,"s2":15,"s3":0.5},{"p":"a","m":"MAY","e":"7","d":135,"s1":4,"s2":12,"s3":0.5},{"p":"a","m":"MAY","e":"7","d":157.5,"s1":3,"s2":12,"s3":1},{"p":"a","m":"MAY","e":"7","d":180,"s1":2,"s2":10},{"p":"a","m":"MAY","e":"7","d":202.5,"s1":2,"s2":8,"s3":1},{"p":"a","m":"MAY","e":"7","d":225,"s1":2,"s2":8,"s3":1},{"p":"a","m":"MAY","e":"7","d":247.5,"s1":2,"s2":7,"s3":3},{"p":"a","m":"MAY","e":"7","d":270,"s1":3,"s2":8,"s3":3},{"p":"a","m":"MAY","e":"7","d":292.5,"s1":3,"s2":11,"s3":4},{"p":"a","m":"MAY","e":"7","d":315,"s1":2,"s2":4},{"p":"a","m":"MAY","e":"7","d":337.5,"s1":1.5,"s2":1},
{"p":"a","m":"OCT","e":"7","d":0,"s1":2,"s2":0.5},{"p":"a","m":"OCT","e":"7","d":22.5,"s1":2,"s2":1},{"p":"a","m":"OCT","e":"7","d":45,"s1":2,"s2":1},{"p":"a","m":"OCT","e":"7","d":67.5,"s1":2,"s2":2},{"p":"a","m":"OCT","e":"7","d":90,"s1":2,"s2":3},{"p":"a","m":"OCT","e":"7","d":112.5,"s1":3,"s2":4},{"p":"a","m":"OCT","e":"7","d":135,"s1":5,"s2":9},{"p":"a","m":"OCT","e":"7","d":157.5,"s1":5,"s2":10},{"p":"a","m":"OCT","e":"7","d":180,"s1":5,"s2":11},{"p":"a","m":"OCT","e":"7","d":202.5,"s1":4,"s2":10},{"p":"a","m":"OCT","e":"7","d":225,"s1":3,"s2":11,"s3":2},{"p":"a","m":"OCT","e":"7","d":247.5,"s1":3,"s2":8,"s3":1},{"p":"a","m":"OCT","e":"7","d":270,"s1":2,"s2":5,"s3":1},{"p":"a","m":"OCT","e":"7","d":292.5,"s1":2,"s2":6,"s3":2},{"p":"a","m":"OCT","e":"7","d":315,"s1":2,"s2":4},{"p":"a","m":"OCT","e":"7","d":337.5,"s1":2,"s2":1},

{"p":"b","m":"JAN","e":"1","d":0,"s1":2,"s2":2},{"p":"b","m":"JAN","e":"1","d":22.5,"s1":2,"s2":2},{"p":"b","m":"JAN","e":"1","d":45,"s1":2,"s2":2},{"p":"b","m":"JAN","e":"1","d":67.5,"s1":2,"s2":3},{"p":"b","m":"JAN","e":"1","d":90,"s1":2,"s2":4},{"p":"b","m":"JAN","e":"1","d":112.5,"s1":2,"s2":5},{"p":"b","m":"JAN","e":"1","d":135,"s1":3,"s2":8},{"p":"b","m":"JAN","e":"1","d":157.5,"s1":2,"s2":4},{"p":"b","m":"JAN","e":"1","d":180,"s1":2,"s2":4},{"p":"b","m":"JAN","e":"1","d":202.5,"s1":2,"s2":3},{"p":"b","m":"JAN","e":"1","d":225,"s1":2,"s2":4},{"p":"b","m":"JAN","e":"1","d":247.5,"s1":3,"s2":6,"s3":1},{"p":"b","m":"JAN","e":"1","d":270,"s1":4,"s2":12,"s3":3},{"p":"b","m":"JAN","e":"1","d":292.5,"s1":4,"s2":12,"s3":4},{"p":"b","m":"JAN","e":"1","d":315,"s1":3,"s2":5},{"p":"b","m":"JAN","e":"1","d":337.5,"s1":2,"s2":2},
{"p":"b","m":"JUL","e":"1","d":0,"s1":2,"s2":0.5},{"p":"b","m":"JUL","e":"1","d":22.5,"s1":1,"s2":0.5},{"p":"b","m":"JUL","e":"1","d":67.5,"s1":1,"s2":0.5},{"p":"b","m":"JUL","e":"1","d":90,"s1":1,"s2":1},{"p":"b","m":"JUL","e":"1","d":112.5,"s1":3,"s2":4},{"p":"b","m":"JUL","e":"1","d":135,"s1":6,"s2":14},{"p":"b","m":"JUL","e":"1","d":157.5,"s1":14,"s2":33,"s3":1},{"p":"b","m":"JUL","e":"1","d":180,"s1":8,"s2":5},{"p":"b","m":"JUL","e":"1","d":202.5,"s1":4,"s2":5},{"p":"b","m":"JUL","e":"1","d":225,"s1":2,"s2":4},{"p":"b","m":"JUL","e":"1","d":247.5,"s1":1,"s2":1},{"p":"b","m":"JUL","e":"1","d":270,"s1":1,"s2":0.5},{"p":"b","m":"JUL","e":"1","d":315,"s1":1,"s2":0.5},{"p":"b","m":"JUL","e":"1","d":337.5,"s1":1,"s2":1},
{"p":"b","m":"MAY","e":"1","d":0,"s1":1.5,"s2":1},{"p":"b","m":"MAY","e":"1","d":22.5,"s1":1.5,"s2":1},{"p":"b","m":"MAY","e":"1","d":45,"s1":2,"s2":1},{"p":"b","m":"MAY","e":"1","d":67.5,"s1":2,"s2":2},{"p":"b","m":"MAY","e":"1","d":90,"s1":2,"s2":3},{"p":"b","m":"MAY","e":"1","d":112.5,"s1":7,"s2":12,"s3":0.5},{"p":"b","m":"MAY","e":"1","d":135,"s1":5,"s2":10},{"p":"b","m":"MAY","e":"1","d":157.5,"s1":4,"s2":13,"s3":0.5},{"p":"b","m":"MAY","e":"1","d":180,"s1":3,"s2":10},{"p":"b","m":"MAY","e":"1","d":202.5,"s1":3,"s2":9,"s3":0.5},{"p":"b","m":"MAY","e":"1","d":225,"s1":2,"s2":8},{"p":"b","m":"MAY","e":"1","d":247.5,"s1":2,"s2":6},{"p":"b","m":"MAY","e":"1","d":270,"s1":3,"s2":9,"s3":3},{"p":"b","m":"MAY","e":"1","d":292.5,"s1":3,"s2":9,"s3":3},{"p":"b","m":"MAY","e":"1","d":315,"s1":2,"s2":3},{"p":"b","m":"MAY","e":"1","d":337.5,"s1":1.5,"s2":1},
{"p":"b","m":"OCT","e":"1","d":0,"s1":2,"s2":0.5},{"p":"b","m":"OCT","e":"1","d":22.5,"s1":2,"s2":1},{"p":"b","m":"OCT","e":"1","d":45,"s1":2,"s2":1},{"p":"b","m":"OCT","e":"1","d":67.5,"s1":2,"s2":2},{"p":"b","m":"OCT","e":"1","d":90,"s1":2,"s2":4},{"p":"b","m":"OCT","e":"1","d":112.5,"s1":3,"s2":5},{"p":"b","m":"OCT","e":"1","d":135,"s1":5,"s2":9},{"p":"b","m":"OCT","e":"1","d":157.5,"s1":10,"s2":13},{"p":"b","m":"OCT","e":"1","d":180,"s1":8,"s2":9},{"p":"b","m":"OCT","e":"1","d":202.5,"s1":10,"s2":5},{"p":"b","m":"OCT","e":"1","d":225,"s1":4,"s2":13},{"p":"b","m":"OCT","e":"1","d":247.5,"s1":3,"s2":6},{"p":"b","m":"OCT","e":"1","d":270,"s1":3,"s2":7,"s3":1},{"p":"b","m":"OCT","e":"1","d":292.5,"s1":2,"s2":7,"s3":2},{"p":"b","m":"OCT","e":"1","d":315,"s1":2,"s2":3},{"p":"b","m":"OCT","e":"1","d":337.5,"s1":2,"s2":1},

{"p":"b","m":"JAN","e":"2","d":0,"s1":2,"s2":0.5,"s4":0.3},{"p":"b","m":"JAN","e":"2","d":22.5,"s1":2,"s2":2},{"p":"b","m":"JAN","e":"2","d":45,"s1":2,"s2":3},{"p":"b","m":"JAN","e":"2","d":67.5,"s1":2,"s2":5},{"p":"b","m":"JAN","e":"2","d":90,"s1":2,"s2":8,"s3":0.5},{"p":"b","m":"JAN","e":"2","d":112.5,"s1":2,"s2":6},{"p":"b","m":"JAN","e":"2","d":135,"s1":3,"s2":5,"s3":0.5},{"p":"b","m":"JAN","e":"2","d":157.5,"s1":2,"s2":4},{"p":"b","m":"JAN","e":"2","d":180,"s1":2,"s2":6},{"p":"b","m":"JAN","e":"2","d":202.5,"s1":2,"s2":5},{"p":"b","m":"JAN","e":"2","d":225,"s1":2,"s2":5},{"p":"b","m":"JAN","e":"2","d":247.5,"s1":2,"s2":8,"s3":1},{"p":"b","m":"JAN","e":"2","d":270,"s1":3,"s2":13,"s3":4},{"p":"b","m":"JAN","e":"2","d":292.5,"s1":3,"s2":10,"s3":3},{"p":"b","m":"JAN","e":"2","d":315,"s1":2,"s2":5},{"p":"b","m":"JAN","e":"2","d":337.5,"s1":2,"s2":2},
{"p":"b","m":"JUL","e":"2","d":0,"s1":1,"s2":0.5},{"p":"b","m":"JUL","e":"2","d":22.5,"s1":1,"s2":0.5},{"p":"b","m":"JUL","e":"2","d":67.5,"s1":1,"s2":0.5},{"p":"b","m":"JUL","e":"2","d":90,"s1":1,"s2":1},{"p":"b","m":"JUL","e":"2","d":112.5,"s1":2,"s2":6},{"p":"b","m":"JUL","e":"2","d":135,"s1":3,"s2":22,"s3":3},{"p":"b","m":"JUL","e":"2","d":157.5,"s1":3,"s2":30,"s3":0.5},{"p":"b","m":"JUL","e":"2","d":180,"s1":3,"s2":12},{"p":"b","m":"JUL","e":"2","d":202.5,"s1":2,"s2":10},{"p":"b","m":"JUL","e":"2","d":225,"s1":2,"s2":5},{"p":"b","m":"JUL","e":"2","d":247.5,"s1":1,"s2":1},{"p":"b","m":"JUL","e":"2","d":270,"s1":1,"s2":1},{"p":"b","m":"JUL","e":"2","d":315,"s1":1,"s2":0.5},{"p":"b","m":"JUL","e":"2","d":337.5,"s1":1,"s2":1},
{"p":"b","m":"MAY","e":"2","d":0,"s1":1.5,"s2":1},{"p":"b","m":"MAY","e":"2","d":22.5,"s1":1.5,"s2":1},{"p":"b","m":"MAY","e":"2","d":45,"s1":2,"s2":1},{"p":"b","m":"MAY","e":"2","d":67.5,"s1":2,"s2":2},{"p":"b","m":"MAY","e":"2","d":90,"s1":2,"s2":4},{"p":"b","m":"MAY","e":"2","d":112.5,"s1":3,"s2":11,"s3":2},{"p":"b","m":"MAY","e":"2","d":135,"s1":3,"s2":8},{"p":"b","m":"MAY","e":"2","d":157.5,"s1":3,"s2":20,"s3":1},{"p":"b","m":"MAY","e":"2","d":180,"s1":3,"s2":9},{"p":"b","m":"MAY","e":"2","d":202.5,"s1":2,"s2":10,"s3":2},{"p":"b","m":"MAY","e":"2","d":225,"s1":2,"s2":8,"s3":2},{"p":"b","m":"MAY","e":"2","d":247.5,"s1":2,"s2":6,"s3":1},{"p":"b","m":"MAY","e":"2","d":270,"s1":2,"s2":8,"s3":4},{"p":"b","m":"MAY","e":"2","d":292.5,"s1":2,"s2":9,"s3":3},{"p":"b","m":"MAY","e":"2","d":315,"s1":2,"s2":4},{"p":"b","m":"MAY","e":"2","d":337.5,"s1":1.5,"s2":1},
{"p":"b","m":"OCT","e":"2","d":0,"s1":2,"s2":0.5},{"p":"b","m":"OCT","e":"2","d":22.5,"s1":2,"s2":1},{"p":"b","m":"OCT","e":"2","d":45,"s1":2,"s2":1},{"p":"b","m":"OCT","e":"2","d":67.5,"s1":2,"s2":2},{"p":"b","m":"OCT","e":"2","d":90,"s1":2,"s2":4},{"p":"b","m":"OCT","e":"2","d":112.5,"s1":3,"s2":5},{"p":"b","m":"OCT","e":"2","d":135,"s1":4,"s2":8},{"p":"b","m":"OCT","e":"2","d":157.5,"s1":6,"s2":10},{"p":"b","m":"OCT","e":"2","d":180,"s1":7,"s2":8},{"p":"b","m":"OCT","e":"2","d":202.5,"s1":6,"s2":8},{"p":"b","m":"OCT","e":"2","d":225,"s1":5,"s2":8},{"p":"b","m":"OCT","e":"2","d":247.5,"s1":4,"s2":10,"s3":3},{"p":"b","m":"OCT","e":"2","d":270,"s1":2,"s2":6,"s3":1},{"p":"b","m":"OCT","e":"2","d":292.5,"s1":2,"s2":8,"s3":3},{"p":"b","m":"OCT","e":"2","d":315,"s1":2,"s2":3},{"p":"b","m":"OCT","e":"2","d":337.5,"s1":2,"s2":1},

{"p":"b","m":"JAN","e":"3","d":0,"s1":2,"s2":1},{"p":"b","m":"JAN","e":"3","d":22.5,"s1":2,"s2":2},{"p":"b","m":"JAN","e":"3","d":45,"s1":2,"s2":2,"s3":1},{"p":"b","m":"JAN","e":"3","d":67.5,"s1":2,"s2":3},{"p":"b","m":"JAN","e":"3","d":90,"s1":2,"s2":6},{"p":"b","m":"JAN","e":"3","d":112.5,"s1":2,"s2":6},{"p":"b","m":"JAN","e":"3","d":135,"s1":2,"s2":7,"s3":2},{"p":"b","m":"JAN","e":"3","d":157.5,"s1":2,"s2":4},{"p":"b","m":"JAN","e":"3","d":180,"s1":2,"s2":5},{"p":"b","m":"JAN","e":"3","d":202.5,"s1":2,"s2":4},{"p":"b","m":"JAN","e":"3","d":225,"s1":2,"s2":5},{"p":"b","m":"JAN","e":"3","d":247.5,"s1":2,"s2":8,"s3":1},{"p":"b","m":"JAN","e":"3","d":270,"s1":3,"s2":12,"s3":5},{"p":"b","m":"JAN","e":"3","d":292.5,"s1":3,"s2":8,"s3":4},{"p":"b","m":"JAN","e":"3","d":315,"s1":2,"s2":4},{"p":"b","m":"JAN","e":"3","d":337.5,"s1":2,"s2":2},
{"p":"b","m":"JUL","e":"3","d":0,"s1":1,"s2":0.5},{"p":"b","m":"JUL","e":"3","d":22.5,"s1":1,"s2":0.5},{"p":"b","m":"JUL","e":"3","d":67.5,"s1":1,"s2":0.5},{"p":"b","m":"JUL","e":"3","d":90,"s1":1.5,"s2":1},{"p":"b","m":"JUL","e":"3","d":112.5,"s1":3,"s2":6},{"p":"b","m":"JUL","e":"3","d":135,"s1":5,"s2":24,"s3":1},{"p":"b","m":"JUL","e":"3","d":157.5,"s1":5,"s2":22,"s3":1},{"p":"b","m":"JUL","e":"3","d":180,"s1":5,"s2":21,"s3":1},{"p":"b","m":"JUL","e":"3","d":202.5,"s1":4,"s2":19,"s3":1},{"p":"b","m":"JUL","e":"3","d":225,"s1":3,"s2":10},{"p":"b","m":"JUL","e":"3","d":247.5,"s1":1,"s2":2},{"p":"b","m":"JUL","e":"3","d":270,"s1":1,"s2":1},{"p":"b","m":"JUL","e":"3","d":315,"s1":1,"s2":0.5},{"p":"b","m":"JUL","e":"3","d":337.5,"s1":1,"s2":1},
{"p":"b","m":"MAY","e":"3","d":0,"s1":1.5,"s2":1},{"p":"b","m":"MAY","e":"3","d":22.5,"s1":1.5,"s2":1},{"p":"b","m":"MAY","e":"3","d":45,"s1":2,"s2":1},{"p":"b","m":"MAY","e":"3","d":67.5,"s1":2,"s2":2},{"p":"b","m":"MAY","e":"3","d":90,"s1":2,"s2":4},{"p":"b","m":"MAY","e":"3","d":112.5,"s1":3,"s2":5},{"p":"b","m":"MAY","e":"3","d":135,"s1":3,"s2":8,"s3":2},{"p":"b","m":"MAY","e":"3","d":157.5,"s1":3,"s2":17,"s3":0.5},{"p":"b","m":"MAY","e":"3","d":180,"s1":2,"s2":8,"s3":2},{"p":"b","m":"MAY","e":"3","d":202.5,"s1":2,"s2":8,"s3":2},{"p":"b","m":"MAY","e":"3","d":225,"s1":2,"s2":7,"s3":2},{"p":"b","m":"MAY","e":"3","d":247.5,"s1":2,"s2":6,"s3":1},{"p":"b","m":"MAY","e":"3","d":270,"s1":2,"s2":8,"s3":4},{"p":"b","m":"MAY","e":"3","d":292.5,"s1":2,"s2":8,"s3":3},{"p":"b","m":"MAY","e":"3","d":315,"s1":2,"s2":4},{"p":"b","m":"MAY","e":"3","d":337.5,"s1":1.5,"s2":1},
{"p":"b","m":"OCT","e":"3","d":0,"s1":2,"s2":0.5},{"p":"b","m":"OCT","e":"3","d":22.5,"s1":2,"s2":1},{"p":"b","m":"OCT","e":"3","d":45,"s1":2,"s2":1},{"p":"b","m":"OCT","e":"3","d":67.5,"s1":2,"s2":2},{"p":"b","m":"OCT","e":"3","d":90,"s1":2,"s2":4},{"p":"b","m":"OCT","e":"3","d":112.5,"s1":3,"s2":5},{"p":"b","m":"OCT","e":"3","d":135,"s1":4,"s2":12},{"p":"b","m":"OCT","e":"3","d":157.5,"s1":5,"s2":10},{"p":"b","m":"OCT","e":"3","d":180,"s1":6,"s2":9},{"p":"b","m":"OCT","e":"3","d":202.5,"s1":5,"s2":8},{"p":"b","m":"OCT","e":"3","d":225,"s1":4,"s2":8},{"p":"b","m":"OCT","e":"3","d":247.5,"s1":3,"s2":8,"s3":1},{"p":"b","m":"OCT","e":"3","d":270,"s1":3,"s2":6,"s3":1},{"p":"b","m":"OCT","e":"3","d":292.5,"s1":3,"s2":9,"s3":4},{"p":"b","m":"OCT","e":"3","d":315,"s1":2,"s2":3},{"p":"b","m":"OCT","e":"3","d":337.5,"s1":2,"s2":1},

{"p":"b","m":"JAN","e":"4","d":0,"s1":2,"s2":1},{"p":"b","m":"JAN","e":"4","d":22.5,"s1":2,"s2":1,"s4":0.3},{"p":"b","m":"JAN","e":"4","d":45,"s1":2,"s2":2},{"p":"b","m":"JAN","e":"4","d":67.5,"s1":2,"s2":3},{"p":"b","m":"JAN","e":"4","d":90,"s1":2,"s2":4},{"p":"b","m":"JAN","e":"4","d":112.5,"s1":2,"s2":5},{"p":"b","m":"JAN","e":"4","d":135,"s1":4,"s2":3},{"p":"b","m":"JAN","e":"4","d":157.5,"s1":2,"s2":4},{"p":"b","m":"JAN","e":"4","d":180,"s1":2,"s2":5},{"p":"b","m":"JAN","e":"4","d":202.5,"s1":2,"s2":4},{"p":"b","m":"JAN","e":"4","d":225,"s1":2,"s2":5},{"p":"b","m":"JAN","e":"4","d":247.5,"s1":2,"s2":5},{"p":"b","m":"JAN","e":"4","d":270,"s1":4,"s2":13,"s3":5},{"p":"b","m":"JAN","e":"4","d":292.5,"s1":3,"s2":12,"s3":6},{"p":"b","m":"JAN","e":"4","d":315,"s1":2,"s2":4},{"p":"b","m":"JAN","e":"4","d":337.5,"s1":2,"s2":2},
{"p":"b","m":"JUL","e":"4","d":0,"s1":1,"s2":0.5},{"p":"b","m":"JUL","e":"4","d":22.5,"s1":1,"s2":0.5},{"p":"b","m":"JUL","e":"4","d":67.5,"s1":1,"s2":0.5},{"p":"b","m":"JUL","e":"4","d":90,"s1":1.5,"s2":1},{"p":"b","m":"JUL","e":"4","d":112.5,"s1":10,"s2":16},{"p":"b","m":"JUL","e":"4","d":135,"s1":12,"s2":14},{"p":"b","m":"JUL","e":"4","d":157.5,"s1":10,"s2":31},{"p":"b","m":"JUL","e":"4","d":180,"s1":4,"s2":10},{"p":"b","m":"JUL","e":"4","d":202.5,"s1":3,"s2":8},{"p":"b","m":"JUL","e":"4","d":225,"s1":2,"s2":3},{"p":"b","m":"JUL","e":"4","d":247.5,"s1":1,"s2":1},{"p":"b","m":"JUL","e":"4","d":270,"s1":1,"s2":1},{"p":"b","m":"JUL","e":"4","d":315,"s1":1,"s2":0.5},{"p":"b","m":"JUL","e":"4","d":337.5,"s1":1,"s2":1},
{"p":"b","m":"MAY","e":"4","d":0,"s1":1.5,"s2":1},{"p":"b","m":"MAY","e":"4","d":22.5,"s1":1.5,"s2":1},{"p":"b","m":"MAY","e":"4","d":45,"s1":2,"s2":1},{"p":"b","m":"MAY","e":"4","d":67.5,"s1":2,"s2":2},{"p":"b","m":"MAY","e":"4","d":90,"s1":2,"s2":4},{"p":"b","m":"MAY","e":"4","d":112.5,"s1":3,"s2":8},{"p":"b","m":"MAY","e":"4","d":135,"s1":4,"s2":20,"s3":0.5},{"p":"b","m":"MAY","e":"4","d":157.5,"s1":3,"s2":12},{"p":"b","m":"MAY","e":"4","d":180,"s1":3,"s2":12},{"p":"b","m":"MAY","e":"4","d":202.5,"s1":2,"s2":7,"s3":1},{"p":"b","m":"MAY","e":"4","d":225,"s1":2,"s2":6,"s3":1},{"p":"b","m":"MAY","e":"4","d":247.5,"s1":2,"s2":5},{"p":"b","m":"MAY","e":"4","d":270,"s1":3,"s2":7,"s3":3},{"p":"b","m":"MAY","e":"4","d":292.5,"s1":3,"s2":8,"s3":3},{"p":"b","m":"MAY","e":"4","d":315,"s1":2,"s2":3},{"p":"b","m":"MAY","e":"4","d":337.5,"s1":1.5,"s2":1},
{"p":"b","m":"OCT","e":"4","d":0,"s1":2,"s2":0.5},{"p":"b","m":"OCT","e":"4","d":22.5,"s1":2,"s2":1},{"p":"b","m":"OCT","e":"4","d":45,"s1":2,"s2":1},{"p":"b","m":"OCT","e":"4","d":67.5,"s1":2,"s2":2},{"p":"b","m":"OCT","e":"4","d":90,"s1":2,"s2":4},{"p":"b","m":"OCT","e":"4","d":112.5,"s1":3,"s2":6},{"p":"b","m":"OCT","e":"4","d":135,"s1":4,"s2":9},{"p":"b","m":"OCT","e":"4","d":157.5,"s1":6,"s2":10},{"p":"b","m":"OCT","e":"4","d":180,"s1":5,"s2":12},{"p":"b","m":"OCT","e":"4","d":202.5,"s1":4,"s2":10},{"p":"b","m":"OCT","e":"4","d":225,"s1":3,"s2":10},{"p":"b","m":"OCT","e":"4","d":247.5,"s1":2,"s2":6},{"p":"b","m":"OCT","e":"4","d":270,"s1":2,"s2":5,"s3":1},{"p":"b","m":"OCT","e":"4","d":292.5,"s1":2,"s2":8,"s3":3},{"p":"b","m":"OCT","e":"4","d":315,"s1":2,"s2":3},{"p":"b","m":"OCT","e":"4","d":337.5,"s1":2,"s2":1},

{"p":"b","m":"JAN","e":"5","d":0,"s1":2,"s2":1},{"p":"b","m":"JAN","e":"5","d":22.5,"s1":2,"s2":1,"s4":0.3},{"p":"b","m":"JAN","e":"5","d":45,"s1":2,"s2":2},{"p":"b","m":"JAN","e":"5","d":67.5,"s1":2,"s2":3},{"p":"b","m":"JAN","e":"5","d":90,"s1":2,"s2":5},{"p":"b","m":"JAN","e":"5","d":112.5,"s1":2,"s2":5},{"p":"b","m":"JAN","e":"5","d":135,"s1":3,"s2":6},{"p":"b","m":"JAN","e":"5","d":157.5,"s1":2,"s2":4},{"p":"b","m":"JAN","e":"5","d":180,"s1":2,"s2":5},{"p":"b","m":"JAN","e":"5","d":202.5,"s1":2,"s2":4},{"p":"b","m":"JAN","e":"5","d":225,"s1":2,"s2":4},{"p":"b","m":"JAN","e":"5","d":247.5,"s1":2,"s2":6,"s3":1},{"p":"b","m":"JAN","e":"5","d":270,"s1":4,"s2":12,"s3":5},{"p":"b","m":"JAN","e":"5","d":292.5,"s1":3,"s2":13,"s3":6},{"p":"b","m":"JAN","e":"5","d":315,"s1":2,"s2":4},{"p":"b","m":"JAN","e":"5","d":337.5,"s1":2,"s2":2},
{"p":"b","m":"JUL","e":"5","d":0,"s1":1,"s2":0.5},{"p":"b","m":"JUL","e":"5","d":22.5,"s1":1,"s2":0.5},{"p":"b","m":"JUL","e":"5","d":67.5,"s1":1,"s2":0.5},{"p":"b","m":"JUL","e":"5","d":90,"s1":1.5,"s2":1},{"p":"b","m":"JUL","e":"5","d":112.5,"s1":8,"s2":18},{"p":"b","m":"JUL","e":"5","d":135,"s1":10,"s2":14},{"p":"b","m":"JUL","e":"5","d":157.5,"s1":12,"s2":23},{"p":"b","m":"JUL","e":"5","d":180,"s1":5,"s2":8},{"p":"b","m":"JUL","e":"5","d":202.5,"s1":3,"s2":8},{"p":"b","m":"JUL","e":"5","d":225,"s1":2,"s2":5},{"p":"b","m":"JUL","e":"5","d":247.5,"s1":1,"s2":1},{"p":"b","m":"JUL","e":"5","d":270,"s1":1,"s2":1},{"p":"b","m":"JUL","e":"5","d":315,"s1":1,"s2":0.5},{"p":"b","m":"JUL","e":"5","d":337.5,"s1":1,"s2":1},
{"p":"b","m":"MAY","e":"5","d":0,"s1":1.5,"s2":1},{"p":"b","m":"MAY","e":"5","d":22.5,"s1":1.5,"s2":1},{"p":"b","m":"MAY","e":"5","d":45,"s1":2,"s2":1},{"p":"b","m":"MAY","e":"5","d":67.5,"s1":2,"s2":2},{"p":"b","m":"MAY","e":"5","d":90,"s1":2,"s2":3},{"p":"b","m":"MAY","e":"5","d":112.5,"s1":3,"s2":6},{"p":"b","m":"MAY","e":"5","d":135,"s1":4,"s2":10,"s3":1},{"p":"b","m":"MAY","e":"5","d":157.5,"s1":3,"s2":18},{"p":"b","m":"MAY","e":"5","d":180,"s1":3,"s2":7},{"p":"b","m":"MAY","e":"5","d":202.5,"s1":2,"s2":6,"s3":2},{"p":"b","m":"MAY","e":"5","d":225,"s1":2,"s2":6,"s3":1},{"p":"b","m":"MAY","e":"5","d":247.5,"s1":2,"s2":6,"s3":1},{"p":"b","m":"MAY","e":"5","d":270,"s1":3,"s2":8,"s3":3},{"p":"b","m":"MAY","e":"5","d":292.5,"s1":2,"s2":8,"s3":3},{"p":"b","m":"MAY","e":"5","d":315,"s1":2,"s2":3},{"p":"b","m":"MAY","e":"5","d":337.5,"s1":1.5,"s2":1},
{"p":"b","m":"OCT","e":"5","d":0,"s1":2,"s2":0.5},{"p":"b","m":"OCT","e":"5","d":22.5,"s1":2,"s2":1},{"p":"b","m":"OCT","e":"5","d":45,"s1":2,"s2":1},{"p":"b","m":"OCT","e":"5","d":67.5,"s1":2,"s2":2},{"p":"b","m":"OCT","e":"5","d":90,"s1":2,"s2":3},{"p":"b","m":"OCT","e":"5","d":112.5,"s1":3,"s2":5},{"p":"b","m":"OCT","e":"5","d":135,"s1":4,"s2":10},{"p":"b","m":"OCT","e":"5","d":157.5,"s1":8,"s2":11},{"p":"b","m":"OCT","e":"5","d":180,"s1":5,"s2":10},{"p":"b","m":"OCT","e":"5","d":202.5,"s1":4,"s2":9,"s3":0.5},{"p":"b","m":"OCT","e":"5","d":225,"s1":3,"s2":10},{"p":"b","m":"OCT","e":"5","d":247.5,"s1":2,"s2":6},{"p":"b","m":"OCT","e":"5","d":270,"s1":2,"s2":5,"s3":1},{"p":"b","m":"OCT","e":"5","d":292.5,"s1":2,"s2":7,"s3":2},{"p":"b","m":"OCT","e":"5","d":315,"s1":2,"s2":3},{"p":"b","m":"OCT","e":"5","d":337.5,"s1":2,"s2":1},

{"p":"b","m":"JAN","e":"6","d":0,"s1":2,"s2":1,"s4":0.3},{"p":"b","m":"JAN","e":"6","d":22.5,"s1":2,"s2":1},{"p":"b","m":"JAN","e":"6","d":45,"s1":2,"s2":2},{"p":"b","m":"JAN","e":"6","d":67.5,"s1":2,"s2":3},{"p":"b","m":"JAN","e":"6","d":90,"s1":2,"s2":4},{"p":"b","m":"JAN","e":"6","d":112.5,"s1":2,"s2":6},{"p":"b","m":"JAN","e":"6","d":135,"s1":2,"s2":7},{"p":"b","m":"JAN","e":"6","d":157.5,"s1":2,"s2":4},{"p":"b","m":"JAN","e":"6","d":180,"s1":2,"s2":5},{"p":"b","m":"JAN","e":"6","d":202.5,"s1":2,"s2":5},{"p":"b","m":"JAN","e":"6","d":225,"s1":2,"s2":6,"s3":0.5},{"p":"b","m":"JAN","e":"6","d":247.5,"s1":2,"s2":5},{"p":"b","m":"JAN","e":"6","d":270,"s1":4,"s2":12,"s3":3},{"p":"b","m":"JAN","e":"6","d":292.5,"s1":4,"s2":19,"s3":6},{"p":"b","m":"JAN","e":"6","d":315,"s1":2,"s2":5},{"p":"b","m":"JAN","e":"6","d":337.5,"s1":2,"s2":2},
{"p":"b","m":"JUL","e":"6","d":0,"s1":1,"s2":0.5},{"p":"b","m":"JUL","e":"6","d":22.5,"s1":1,"s2":0.5},{"p":"b","m":"JUL","e":"6","d":67.5,"s1":1,"s2":0.5},{"p":"b","m":"JUL","e":"6","d":90,"s1":1.5,"s2":1},{"p":"b","m":"JUL","e":"6","d":112.5,"s1":7,"s2":18},{"p":"b","m":"JUL","e":"6","d":135,"s1":8,"s2":12},{"p":"b","m":"JUL","e":"6","d":157.5,"s1":10,"s2":32,"s3":1},{"p":"b","m":"JUL","e":"6","d":180,"s1":4,"s2":8},{"p":"b","m":"JUL","e":"6","d":202.5,"s1":3,"s2":8},{"p":"b","m":"JUL","e":"6","d":225,"s1":2,"s2":3},{"p":"b","m":"JUL","e":"6","d":247.5,"s1":1,"s2":1},{"p":"b","m":"JUL","e":"6","d":270,"s1":1,"s2":1},{"p":"b","m":"JUL","e":"6","d":315,"s1":1,"s2":0.5},{"p":"b","m":"JUL","e":"6","d":337.5,"s1":1,"s2":1},
{"p":"b","m":"MAY","e":"6","d":0,"s1":1.5,"s2":1},{"p":"b","m":"MAY","e":"6","d":22.5,"s1":1.5,"s2":1},{"p":"b","m":"MAY","e":"6","d":45,"s1":2,"s2":1},{"p":"b","m":"MAY","e":"6","d":67.5,"s1":2,"s2":2},{"p":"b","m":"MAY","e":"6","d":90,"s1":2,"s2":3},{"p":"b","m":"MAY","e":"6","d":112.5,"s1":3,"s2":9},{"p":"b","m":"MAY","e":"6","d":135,"s1":4,"s2":19},{"p":"b","m":"MAY","e":"6","d":157.5,"s1":3,"s2":9},{"p":"b","m":"MAY","e":"6","d":180,"s1":3,"s2":9},{"p":"b","m":"MAY","e":"6","d":202.5,"s1":2,"s2":7,"s3":1.5},{"p":"b","m":"MAY","e":"6","d":225,"s1":2,"s2":7,"s3":1},{"p":"b","m":"MAY","e":"6","d":247.5,"s1":2,"s2":6},{"p":"b","m":"MAY","e":"6","d":270,"s1":3,"s2":9,"s3":2},{"p":"b","m":"MAY","e":"6","d":292.5,"s1":3,"s2":8,"s3":1},{"p":"b","m":"MAY","e":"6","d":315,"s1":2,"s2":5},{"p":"b","m":"MAY","e":"6","d":337.5,"s1":1.5,"s2":1},
{"p":"b","m":"OCT","e":"6","d":0,"s1":2,"s2":0.5},{"p":"b","m":"OCT","e":"6","d":22.5,"s1":2,"s2":1},{"p":"b","m":"OCT","e":"6","d":45,"s1":2,"s2":1},{"p":"b","m":"OCT","e":"6","d":67.5,"s1":2,"s2":2},{"p":"b","m":"OCT","e":"6","d":90,"s1":2,"s2":3},{"p":"b","m":"OCT","e":"6","d":112.5,"s1":3,"s2":5},{"p":"b","m":"OCT","e":"6","d":135,"s1":4,"s2":8},{"p":"b","m":"OCT","e":"6","d":157.5,"s1":6,"s2":14},{"p":"b","m":"OCT","e":"6","d":180,"s1":5,"s2":9},{"p":"b","m":"OCT","e":"6","d":202.5,"s1":4,"s2":9},{"p":"b","m":"OCT","e":"6","d":225,"s1":3,"s2":8,"s3":1},{"p":"b","m":"OCT","e":"6","d":247.5,"s1":2,"s2":6,"s3":1},{"p":"b","m":"OCT","e":"6","d":270,"s1":2,"s2":5,"s3":1},{"p":"b","m":"OCT","e":"6","d":292.5,"s1":2,"s2":6,"s3":2},{"p":"b","m":"OCT","e":"6","d":315,"s1":2,"s2":3},{"p":"b","m":"OCT","e":"6","d":337.5,"s1":2,"s2":1},

{"p":"b","m":"JAN","e":"7","d":0,"s1":2,"s2":1,"s3":0.5},{"p":"b","m":"JAN","e":"7","d":22.5,"s1":2,"s2":1},{"p":"b","m":"JAN","e":"7","d":45,"s1":2,"s2":2},{"p":"b","m":"JAN","e":"7","d":67.5,"s1":2,"s2":3},{"p":"b","m":"JAN","e":"7","d":90,"s1":2,"s2":4},{"p":"b","m":"JAN","e":"7","d":112.5,"s1":2,"s2":5},{"p":"b","m":"JAN","e":"7","d":135,"s1":2,"s2":6},{"p":"b","m":"JAN","e":"7","d":157.5,"s1":2,"s2":4},{"p":"b","m":"JAN","e":"7","d":180,"s1":2,"s2":4},{"p":"b","m":"JAN","e":"7","d":202.5,"s1":2,"s2":5},{"p":"b","m":"JAN","e":"7","d":225,"s1":2,"s2":5},{"p":"b","m":"JAN","e":"7","d":247.5,"s1":2,"s2":6,"s3":1},{"p":"b","m":"JAN","e":"7","d":270,"s1":4,"s2":11,"s3":4},{"p":"b","m":"JAN","e":"7","d":292.5,"s1":4,"s2":16,"s3":6},{"p":"b","m":"JAN","e":"7","d":315,"s1":2,"s2":5},{"p":"b","m":"JAN","e":"7","d":337.5,"s1":2,"s2":2},
{"p":"b","m":"JUL","e":"7","d":0,"s1":1,"s2":0.5},{"p":"b","m":"JUL","e":"7","d":22.5,"s1":1,"s2":0.5},{"p":"b","m":"JUL","e":"7","d":67.5,"s1":1,"s2":0.5},{"p":"b","m":"JUL","e":"7","d":90,"s1":1.5,"s2":1},{"p":"b","m":"JUL","e":"7","d":112.5,"s1":8,"s2":16,"s3":1},{"p":"b","m":"JUL","e":"7","d":135,"s1":14,"s2":12},{"p":"b","m":"JUL","e":"7","d":157.5,"s1":12,"s2":34,"s3":1},{"p":"b","m":"JUL","e":"7","d":180,"s1":4,"s2":8},{"p":"b","m":"JUL","e":"7","d":202.5,"s1":3,"s2":6},{"p":"b","m":"JUL","e":"7","d":225,"s1":2,"s2":3},{"p":"b","m":"JUL","e":"7","d":247.5,"s1":1,"s2":1},{"p":"b","m":"JUL","e":"7","d":270,"s1":1,"s2":1},{"p":"b","m":"JUL","e":"7","d":315,"s1":1,"s2":0.5},{"p":"b","m":"JUL","e":"7","d":337.5,"s1":1,"s2":1},
{"p":"b","m":"MAY","e":"7","d":0,"s1":1.5,"s2":1},{"p":"b","m":"MAY","e":"7","d":22.5,"s1":1.5,"s2":1},{"p":"b","m":"MAY","e":"7","d":45,"s1":2,"s2":1},{"p":"b","m":"MAY","e":"7","d":67.5,"s1":2,"s2":2},{"p":"b","m":"MAY","e":"7","d":90,"s1":2,"s2":3},{"p":"b","m":"MAY","e":"7","d":112.5,"s1":3,"s2":4},{"p":"b","m":"MAY","e":"7","d":135,"s1":5,"s2":12,"s3":1},{"p":"b","m":"MAY","e":"7","d":157.5,"s1":5,"s2":11},{"p":"b","m":"MAY","e":"7","d":180,"s1":3,"s2":9},{"p":"b","m":"MAY","e":"7","d":202.5,"s1":2,"s2":8},{"p":"b","m":"MAY","e":"7","d":225,"s1":2,"s2":7,"s3":2},{"p":"b","m":"MAY","e":"7","d":247.5,"s1":2,"s2":6,"s3":1},{"p":"b","m":"MAY","e":"7","d":270,"s1":3,"s2":8,"s3":3},{"p":"b","m":"MAY","e":"7","d":292.5,"s1":3,"s2":10,"s3":4},{"p":"b","m":"MAY","e":"7","d":315,"s1":2,"s2":4},{"p":"b","m":"MAY","e":"7","d":337.5,"s1":1.5,"s2":1},
{"p":"b","m":"OCT","e":"7","d":0,"s1":2,"s2":0.5},{"p":"b","m":"OCT","e":"7","d":22.5,"s1":2,"s2":1},{"p":"b","m":"OCT","e":"7","d":45,"s1":2,"s2":1},{"p":"b","m":"OCT","e":"7","d":67.5,"s1":2,"s2":2},{"p":"b","m":"OCT","e":"7","d":90,"s1":2,"s2":3},{"p":"b","m":"OCT","e":"7","d":112.5,"s1":3,"s2":5},{"p":"b","m":"OCT","e":"7","d":135,"s1":8,"s2":7},{"p":"b","m":"OCT","e":"7","d":157.5,"s1":7,"s2":9},{"p":"b","m":"OCT","e":"7","d":180,"s1":5,"s2":8},{"p":"b","m":"OCT","e":"7","d":202.5,"s1":4,"s2":7},{"p":"b","m":"OCT","e":"7","d":225,"s1":3,"s2":8},{"p":"b","m":"OCT","e":"7","d":247.5,"s1":3,"s2":7,"s3":1},{"p":"b","m":"OCT","e":"7","d":270,"s1":3,"s2":8,"s3":2},{"p":"b","m":"OCT","e":"7","d":292.5,"s1":2,"s2":8,"s3":3},{"p":"b","m":"OCT","e":"7","d":315,"s1":2,"s2":3},{"p":"b","m":"OCT","e":"7","d":337.5,"s1":2,"s2":1}
]},
"resolve":{"scale":{"color":"independent"}},
"spacing":5,
"hconcat":[
 {"spacing":-3,"vconcat":[
   {"spacing":0,"hconcat":[
     {"width":17,"height":15,"data":{"values":[{}]},"mark":{"type":"point","opacity":0},"encoding":{},"view":{"stroke":null}},
     {"title":{"text":"a) FNL"},"width":500,"height":15,"data":{"values":[{"m":"JAN"},{"m":"JUL"},{"m":"MAY"},{"m":"OCT"}]},"view":{"stroke":null},
      "encoding":{"x":{"field":"m","type":"nominal","sort":null,"scale":{"paddingInner":0,"paddingOuter":0},"axis":null}},
      "layer":[{"mark":{"type":"rect","fill":"#fff","stroke":"#000","strokeWidth":1.2}},{"mark":{"type":"text","fontSize":12,"color":"#000"},"encoding":{"text":{"field":"m"}}}]}
   ]},
   {"spacing":-3,"hconcat":[
     {"width":17,"height":1014.4,"data":{"values":[{"e":"OBS"},{"e":"Exp (1)"},{"e":"Exp (2)"},{"e":"Exp (3)"},{"e":"Exp (4)"},{"e":"Exp (5)"},{"e":"Exp (6)"},{"e":"Exp (7)"}]},"view":{"stroke":null},
      "encoding":{"y":{"field":"e","type":"nominal","sort":null,"scale":{"paddingInner":0,"paddingOuter":0},"axis":null}},
      "layer":[{"mark":{"type":"rect","fill":"#fff","stroke":"#000","strokeWidth":1.2}},{"mark":{"type":"text","fontSize":12,"angle":270,"color":"#000"},"encoding":{"text":{"field":"e"}}}]},
     {"data":{"name":"roses"},"transform":[{"filter":"indexof(datum.p, 'a') >= 0"}],
      "facet":{"row":{"field":"e","type":"nominal","sort":["O","1","2","3","4","5","6","7"],"header":null},"column":{"field":"m","type":"nominal","sort":["JAN","JUL","MAY","OCT"],"header":null}},
      "spacing":0,"bounds":"flush",
      "spec":{"width":125,"height":126.8,"layer":[
        {"transform":[{"filter":"isValid(datum.mean)"}],"mark":{"type":"arc","filled":false,"color":"#c4c4c4","strokeWidth":0.8,"clip":true},"encoding":{"theta":{"datum":0,"type":"quantitative","scale":{"type":"linear","domain":[0,360],"range":[0,6.283185307]}},"theta2":{"datum":360},"radius":{"datum":20,"type":"quantitative","scale":{"type":"linear","domain":[0,60],"range":[4,79],"zero":false}}}},
        {"transform":[{"filter":"isValid(datum.mean)"}],"mark":{"type":"arc","filled":false,"color":"#c4c4c4","strokeWidth":0.8,"clip":true},"encoding":{"theta":{"datum":0,"type":"quantitative"},"theta2":{"datum":360},"radius":{"datum":40,"type":"quantitative"}}},
        {"transform":[{"filter":"isValid(datum.mean)"}],"mark":{"type":"arc","filled":false,"color":"#c4c4c4","strokeWidth":0.8,"clip":true},"encoding":{"theta":{"datum":0,"type":"quantitative"},"theta2":{"datum":360},"radius":{"datum":60,"type":"quantitative"}}},
        {"transform":[{"filter":"isValid(datum.mean)"}],"mark":{"type":"rule","color":"#000","strokeWidth":1.6},"encoding":{"x":{"datum":0,"type":"quantitative","scale":{"domain":[-1,1],"nice":false,"zero":false},"axis":null},"y":{"datum":-1,"type":"quantitative","scale":{"domain":[-1,1],"nice":false,"zero":false},"axis":null},"y2":{"datum":1}}},
        {"transform":[{"filter":"isValid(datum.mean)"}],"mark":{"type":"rule","color":"#000","strokeWidth":1.6},"encoding":{"y":{"datum":0,"type":"quantitative","axis":null},"x":{"datum":-1,"type":"quantitative","axis":null},"x2":{"datum":1}}},
        {"transform":[{"filter":"isValid(datum.d)"},{"fold":["s1","s2","s3","s4"],"as":["bin","f"]},{"filter":"datum.f > 0"},{"stack":"f","groupby":["p","m","e","d"],"sort":[{"field":"bin","order":"ascending"}],"as":["r0","r1"]},{"calculate":"datum.d - 11.25","as":"t0"},{"calculate":"datum.d + 11.25","as":"t1"}],
         "mark":{"type":"arc","stroke":"#fff","strokeWidth":0.6,"clip":true},
         "encoding":{"theta":{"field":"t0","type":"quantitative","stack":null},"theta2":{"field":"t1"},"radius":{"field":"r1","type":"quantitative","stack":null},"radius2":{"field":"r0"},"color":{"field":"bin","type":"nominal","scale":{"domain":["s1","s2","s3","s4"],"range":["#00006a","#18cdf0","#ffcf00","#720000"]},"legend":null}}},
        {"transform":[{"filter":"isValid(datum.mean)"}],"mark":{"type":"arc","fill":"#fff","stroke":"#000","strokeWidth":1.4},"encoding":{"theta":{"datum":0,"type":"quantitative"},"theta2":{"datum":360},"radius":{"datum":0,"type":"quantitative"}}},
        {"transform":[{"filter":"isValid(datum.mean)"}],"mark":{"type":"text","text":"N","align":"left","baseline":"top","dx":1,"dy":1,"fontSize":11,"color":"#000"},"encoding":{"x":{"datum":0,"type":"quantitative","axis":null},"y":{"datum":1,"type":"quantitative","axis":null}}},
        {"transform":[{"filter":"isValid(datum.mean)"}],"mark":{"type":"text","text":"E","align":"right","baseline":"alphabetic","dx":-1,"dy":0,"fontSize":11,"color":"#000"},"encoding":{"x":{"datum":1,"type":"quantitative","axis":null},"y":{"datum":0,"type":"quantitative","axis":null}}},
        {"transform":[{"filter":"isValid(datum.mean)"}],"mark":{"type":"text","text":"W","align":"left","baseline":"alphabetic","dx":1,"dy":0,"fontSize":11,"color":"#000"},"encoding":{"x":{"datum":-1,"type":"quantitative","axis":null},"y":{"datum":0,"type":"quantitative","axis":null}}},
        {"transform":[{"filter":"isValid(datum.mean)"}],"mark":{"type":"text","text":"S","align":"left","baseline":"alphabetic","dx":1,"dy":-2,"fontSize":11,"color":"#000"},"encoding":{"x":{"datum":0,"type":"quantitative","axis":null},"y":{"datum":-1,"type":"quantitative","axis":null}}},
        {"transform":[{"filter":"isValid(datum.mean)"}],"mark":{"type":"text","text":"20%","fontSize":11,"color":"#000","clip":true},"encoding":{"theta":{"datum":315,"type":"quantitative"},"radius":{"datum":20,"type":"quantitative"}}},
        {"transform":[{"filter":"isValid(datum.mean)"}],"mark":{"type":"text","text":"40%","fontSize":11,"color":"#000","clip":true},"encoding":{"theta":{"datum":315,"type":"quantitative"},"radius":{"datum":40,"type":"quantitative"}}},
        {"transform":[{"filter":"isValid(datum.mean)"}],"mark":{"type":"text","text":"60%","fontSize":11,"color":"#000","clip":true},"encoding":{"theta":{"datum":315,"type":"quantitative"},"radius":{"datum":60,"type":"quantitative"}}},
        {"transform":[{"filter":"isValid(datum.mean)"},{"calculate":"'mean = ' + datum.mean","as":"mt"}],"mark":{"type":"text","align":"right","baseline":"alphabetic","fontSize":11,"color":"#12a012"},"encoding":{"x":{"datum":0.94,"type":"quantitative","axis":null},"y":{"datum":-0.68,"type":"quantitative","axis":null},"text":{"field":"mt"}}},
        {"transform":[{"filter":"isValid(datum.mean)"},{"calculate":"'calm = ' + datum.calm + '%'","as":"ct"}],"mark":{"type":"text","align":"right","baseline":"alphabetic","fontSize":11,"color":"#12a012"},"encoding":{"x":{"datum":0.94,"type":"quantitative","axis":null},"y":{"datum":-0.947,"type":"quantitative","axis":null},"text":{"field":"ct"}}}
      ]}}
   ]}
 ]},
 {"spacing":2,"resolve":{"scale":{"color":"independent"}},"hconcat":[
   {"spacing":-3,"vconcat":[
     {"title":{"text":"b) Era5"},"width":500,"height":15,"data":{"values":[{"m":"JAN"},{"m":"JUL"},{"m":"MAY"},{"m":"OCT"}]},"view":{"stroke":null},
      "encoding":{"x":{"field":"m","type":"nominal","sort":null,"scale":{"paddingInner":0,"paddingOuter":0},"axis":null}},
      "layer":[{"mark":{"type":"rect","fill":"#fff","stroke":"#000","strokeWidth":1.2}},{"mark":{"type":"text","fontSize":12,"color":"#000"},"encoding":{"text":{"field":"m"}}}]},
     {"data":{"name":"roses"},"transform":[{"filter":"indexof(datum.p, 'b') >= 0"}],
      "facet":{"row":{"field":"e","type":"nominal","sort":["O","1","2","3","4","5","6","7"],"header":null},"column":{"field":"m","type":"nominal","sort":["JAN","JUL","MAY","OCT"],"header":null}},
      "spacing":0,"bounds":"flush",
      "spec":{"width":125,"height":126.8,"layer":[
        {"transform":[{"filter":"isValid(datum.mean)"}],"mark":{"type":"arc","filled":false,"color":"#c4c4c4","strokeWidth":0.8,"clip":true},"encoding":{"theta":{"datum":0,"type":"quantitative","scale":{"type":"linear","domain":[0,360],"range":[0,6.283185307]}},"theta2":{"datum":360},"radius":{"datum":20,"type":"quantitative","scale":{"type":"linear","domain":[0,60],"range":[4,79],"zero":false}}}},
        {"transform":[{"filter":"isValid(datum.mean)"}],"mark":{"type":"arc","filled":false,"color":"#c4c4c4","strokeWidth":0.8,"clip":true},"encoding":{"theta":{"datum":0,"type":"quantitative"},"theta2":{"datum":360},"radius":{"datum":40,"type":"quantitative"}}},
        {"transform":[{"filter":"isValid(datum.mean)"}],"mark":{"type":"arc","filled":false,"color":"#c4c4c4","strokeWidth":0.8,"clip":true},"encoding":{"theta":{"datum":0,"type":"quantitative"},"theta2":{"datum":360},"radius":{"datum":60,"type":"quantitative"}}},
        {"transform":[{"filter":"isValid(datum.mean)"}],"mark":{"type":"rule","color":"#000","strokeWidth":1.6},"encoding":{"x":{"datum":0,"type":"quantitative","scale":{"domain":[-1,1],"nice":false,"zero":false},"axis":null},"y":{"datum":-1,"type":"quantitative","scale":{"domain":[-1,1],"nice":false,"zero":false},"axis":null},"y2":{"datum":1}}},
        {"transform":[{"filter":"isValid(datum.mean)"}],"mark":{"type":"rule","color":"#000","strokeWidth":1.6},"encoding":{"y":{"datum":0,"type":"quantitative","axis":null},"x":{"datum":-1,"type":"quantitative","axis":null},"x2":{"datum":1}}},
        {"transform":[{"filter":"isValid(datum.d)"},{"fold":["s1","s2","s3","s4"],"as":["bin","f"]},{"filter":"datum.f > 0"},{"stack":"f","groupby":["p","m","e","d"],"sort":[{"field":"bin","order":"ascending"}],"as":["r0","r1"]},{"calculate":"datum.d - 11.25","as":"t0"},{"calculate":"datum.d + 11.25","as":"t1"}],
         "mark":{"type":"arc","stroke":"#fff","strokeWidth":0.6,"clip":true},
         "encoding":{"theta":{"field":"t0","type":"quantitative","stack":null},"theta2":{"field":"t1"},"radius":{"field":"r1","type":"quantitative","stack":null},"radius2":{"field":"r0"},"color":{"field":"bin","type":"nominal","scale":{"domain":["s1","s2","s3","s4"],"range":["#00006a","#18cdf0","#ffcf00","#720000"]},"legend":null}}},
        {"transform":[{"filter":"isValid(datum.mean)"}],"mark":{"type":"arc","fill":"#fff","stroke":"#000","strokeWidth":1.4},"encoding":{"theta":{"datum":0,"type":"quantitative"},"theta2":{"datum":360},"radius":{"datum":0,"type":"quantitative"}}},
        {"transform":[{"filter":"isValid(datum.mean)"}],"mark":{"type":"text","text":"N","align":"left","baseline":"top","dx":1,"dy":1,"fontSize":11,"color":"#000"},"encoding":{"x":{"datum":0,"type":"quantitative","axis":null},"y":{"datum":1,"type":"quantitative","axis":null}}},
        {"transform":[{"filter":"isValid(datum.mean)"}],"mark":{"type":"text","text":"E","align":"right","baseline":"alphabetic","dx":-1,"dy":0,"fontSize":11,"color":"#000"},"encoding":{"x":{"datum":1,"type":"quantitative","axis":null},"y":{"datum":0,"type":"quantitative","axis":null}}},
        {"transform":[{"filter":"isValid(datum.mean)"}],"mark":{"type":"text","text":"W","align":"left","baseline":"alphabetic","dx":1,"dy":0,"fontSize":11,"color":"#000"},"encoding":{"x":{"datum":-1,"type":"quantitative","axis":null},"y":{"datum":0,"type":"quantitative","axis":null}}},
        {"transform":[{"filter":"isValid(datum.mean)"}],"mark":{"type":"text","text":"S","align":"left","baseline":"alphabetic","dx":1,"dy":-2,"fontSize":11,"color":"#000"},"encoding":{"x":{"datum":0,"type":"quantitative","axis":null},"y":{"datum":-1,"type":"quantitative","axis":null}}},
        {"transform":[{"filter":"isValid(datum.mean)"}],"mark":{"type":"text","text":"20%","fontSize":11,"color":"#000","clip":true},"encoding":{"theta":{"datum":315,"type":"quantitative"},"radius":{"datum":20,"type":"quantitative"}}},
        {"transform":[{"filter":"isValid(datum.mean)"}],"mark":{"type":"text","text":"40%","fontSize":11,"color":"#000","clip":true},"encoding":{"theta":{"datum":315,"type":"quantitative"},"radius":{"datum":40,"type":"quantitative"}}},
        {"transform":[{"filter":"isValid(datum.mean)"}],"mark":{"type":"text","text":"60%","fontSize":11,"color":"#000","clip":true},"encoding":{"theta":{"datum":315,"type":"quantitative"},"radius":{"datum":60,"type":"quantitative"}}},
        {"transform":[{"filter":"isValid(datum.mean)"},{"calculate":"'mean = ' + datum.mean","as":"mt"}],"mark":{"type":"text","align":"right","baseline":"alphabetic","fontSize":11,"color":"#12a012"},"encoding":{"x":{"datum":0.94,"type":"quantitative","axis":null},"y":{"datum":-0.68,"type":"quantitative","axis":null},"text":{"field":"mt"}}},
        {"transform":[{"filter":"isValid(datum.mean)"},{"calculate":"'calm = ' + datum.calm + '%'","as":"ct"}],"mark":{"type":"text","align":"right","baseline":"alphabetic","fontSize":11,"color":"#12a012"},"encoding":{"x":{"datum":0.94,"type":"quantitative","axis":null},"y":{"datum":-0.947,"type":"quantitative","axis":null},"text":{"field":"ct"}}}
      ]}}
   ]},
   {"spacing":0,"vconcat":[
     {"width":18,"height":205,"data":{"values":[{}]},"mark":{"type":"point","opacity":0},"encoding":{},"view":{"stroke":null}},
     {"width":18,"height":620,"data":{"values":[{"bin":"10 to 20"},{"bin":"5 to 10"},{"bin":"2 to 5"},{"bin":"0 to 2"}]},"view":{"stroke":null},
      "title":{"text":"(m s⁻¹)","orient":"bottom","anchor":"start","font":"Liberation Sans","fontSize":11,"fontWeight":"normal","offset":2,"dx":-3},
      "mark":{"type":"rect"},
      "encoding":{"y":{"field":"bin","type":"nominal","sort":null,"scale":{"paddingInner":0,"paddingOuter":0},"axis":{"orient":"right","title":null,"ticks":false,"domain":false,"labelAngle":270,"labelFontSize":11,"labelPadding":4,"labelAlign":"center","labelBaseline":"middle","labelColor":"#000"}},
       "color":{"field":"bin","type":"nominal","scale":{"domain":["0 to 2","2 to 5","5 to 10","10 to 20"],"range":["#00006a","#18cdf0","#ffcf00","#720000"]},"legend":null}}}
   ]}
 ]}
]
}
